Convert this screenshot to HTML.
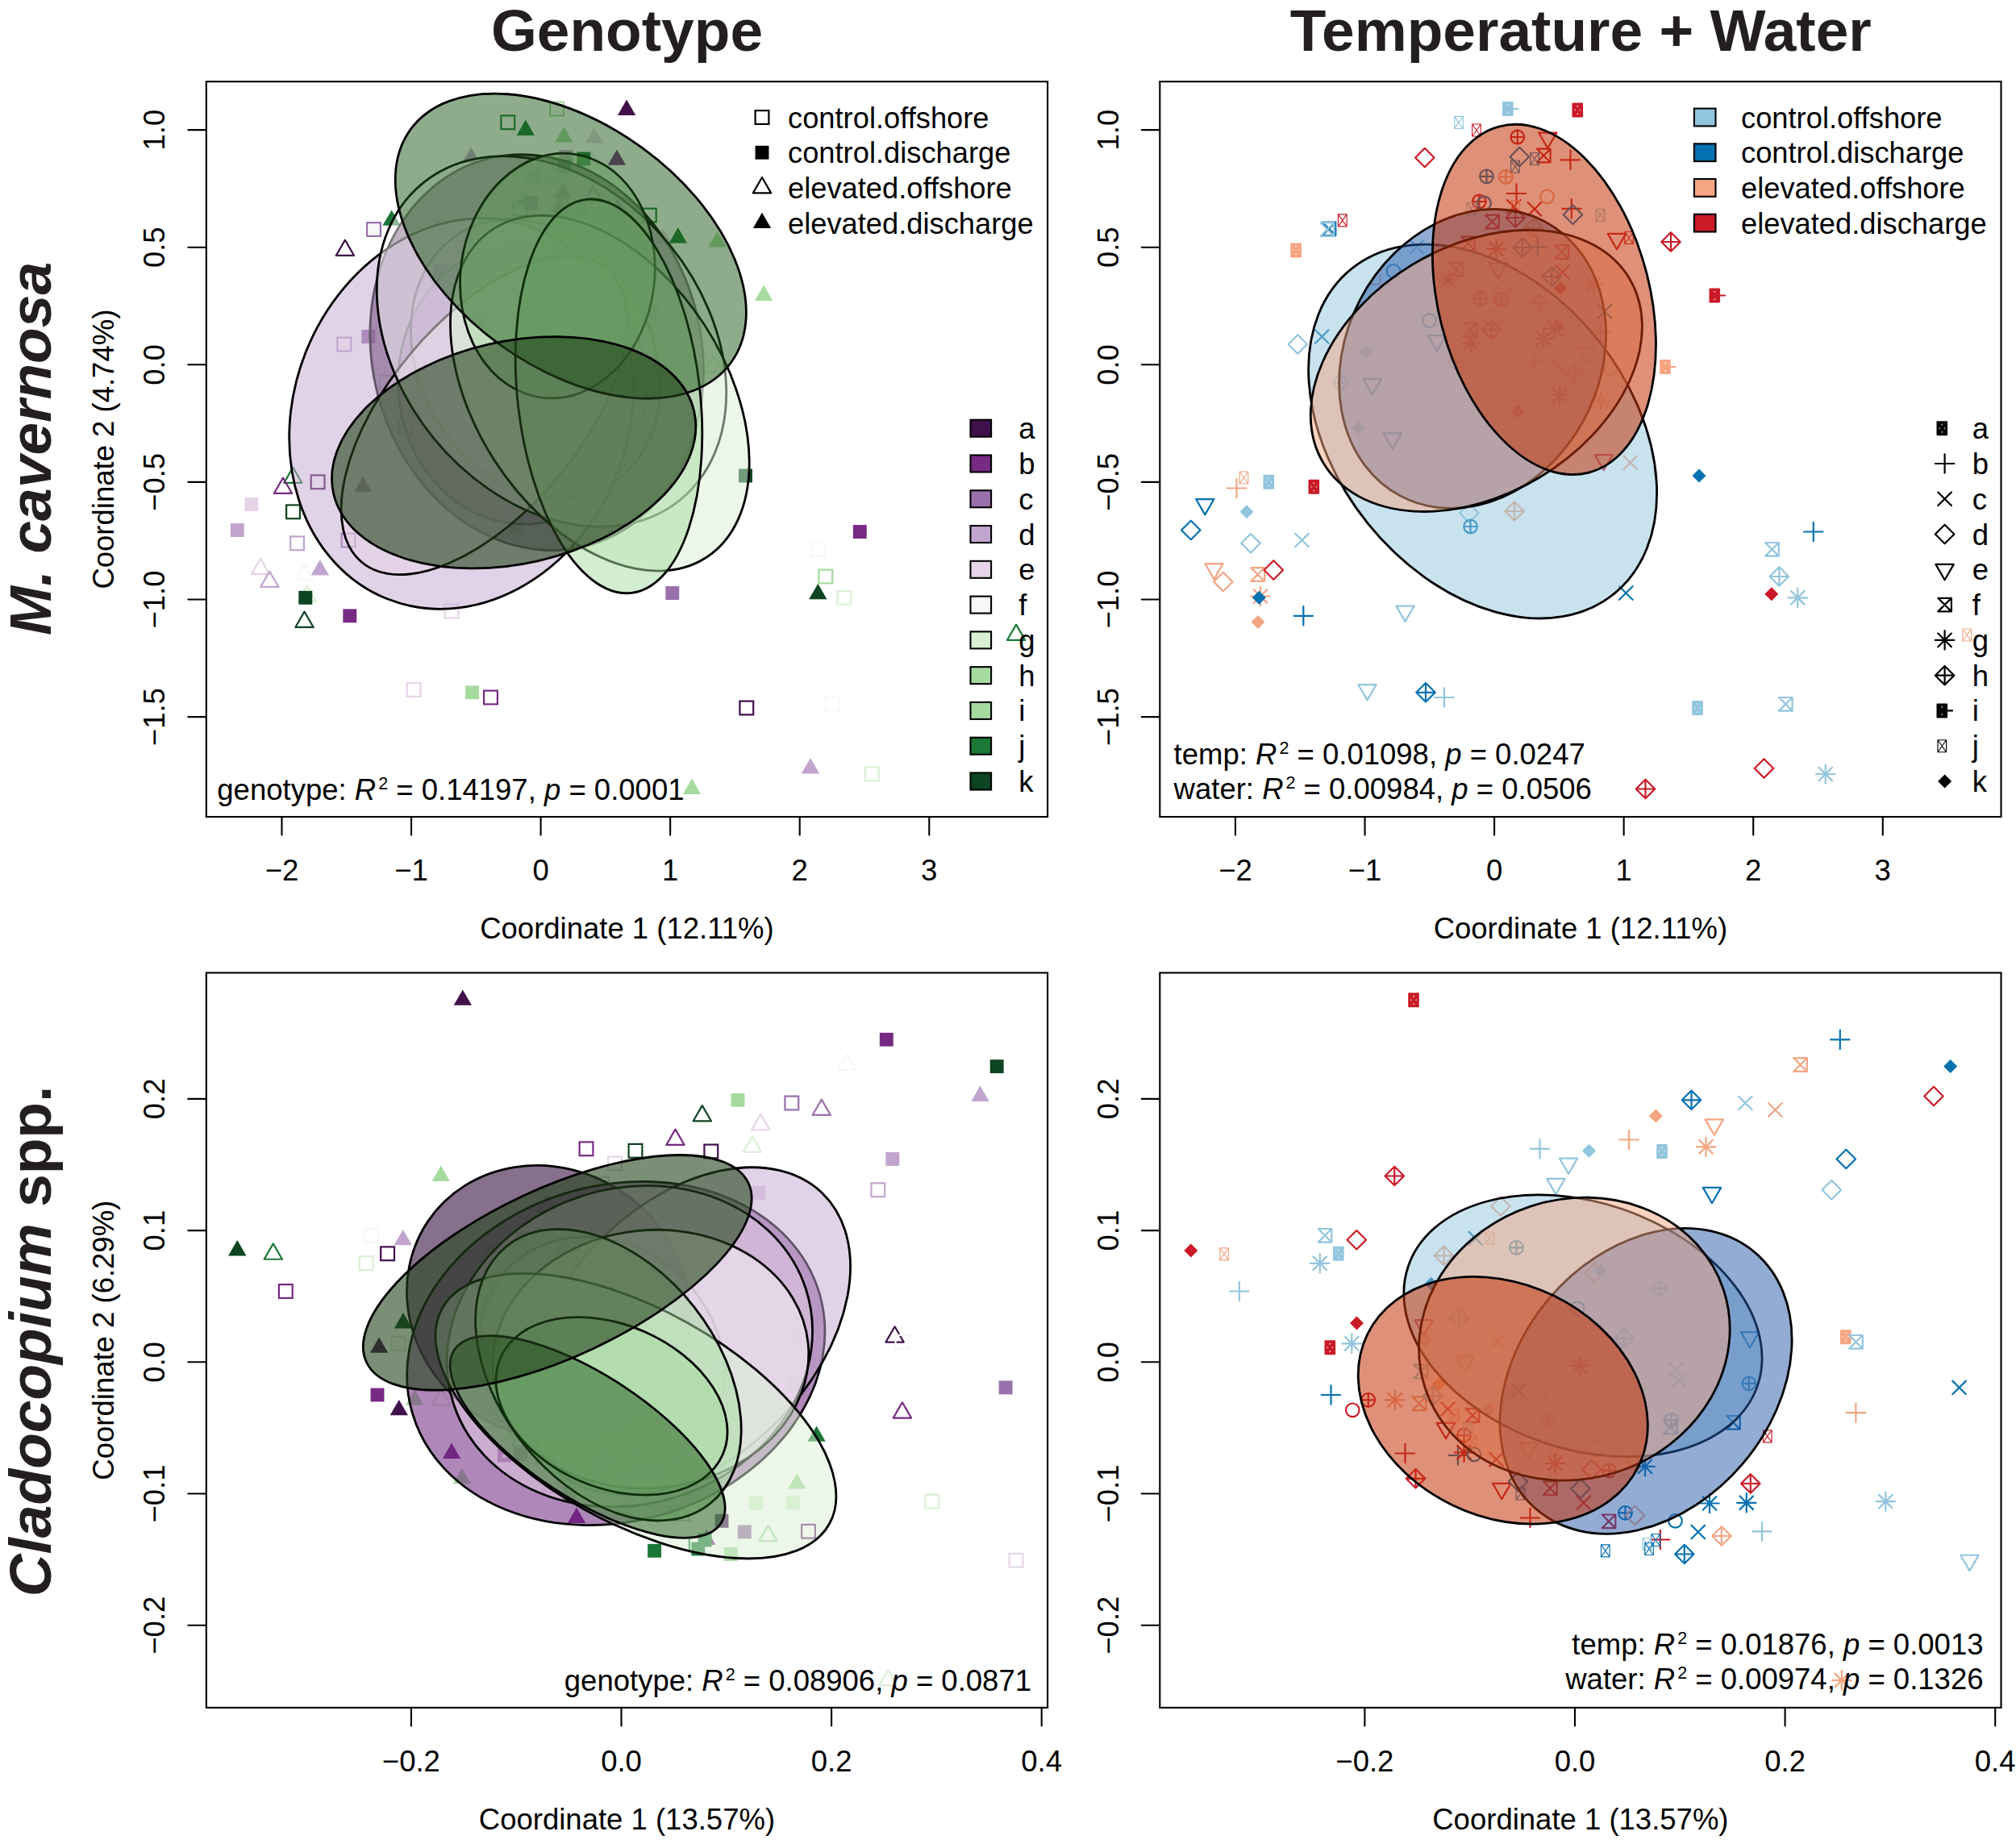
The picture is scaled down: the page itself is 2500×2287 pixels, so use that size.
<!DOCTYPE html>
<html lang="en"><head><meta charset="utf-8"><title>Ordination of M. cavernosa and Cladocopium spp. by genotype and treatment</title>
<style>html,body{margin:0;padding:0;background:#fff}svg{display:block}text{font-family:"Liberation Sans", sans-serif}</style></head>
<body>
<svg width="2500" height="2287" viewBox="0 0 2500 2287">
<rect width="2500" height="2287" fill="#fff"/>
<defs>
<clipPath id="cp00"><rect x="255.8" y="101.2" width="1043.3" height="911.9"/></clipPath>
<clipPath id="cp01"><rect x="1438.3" y="101.2" width="1043.2" height="911.9"/></clipPath>
<clipPath id="cp10"><rect x="255.8" y="1206.5" width="1043.3" height="911.4"/></clipPath>
<clipPath id="cp11"><rect x="1438.3" y="1206.5" width="1043.2" height="911.4"/></clipPath>
</defs>
<text x="777.5" y="63.2" font-size="73.1" text-anchor="middle" font-weight="bold" fill="#231f20" >Genotype</text>
<text x="1960.3" y="63.2" font-size="73.1" text-anchor="middle" font-weight="bold" fill="#231f20" >Temperature + Water</text>
<text font-size="73.1" text-anchor="middle" font-weight="bold" fill="#231f20" transform="translate(63.4 556.5) rotate(-90)" ><tspan font-style="italic">M. cavernosa</tspan></text>
<text font-size="73.1" text-anchor="middle" font-weight="bold" fill="#231f20" transform="translate(63.4 1663.5) rotate(-90)" ><tspan font-style="italic">Cladocopium</tspan> spp.</text>
<g clip-path="url(#cp00)">
<rect x="682.2" y="126.6" width="16.8" height="16.8" fill="none" stroke="#a6dba0" stroke-width="2.2"/>
<rect x="621.4" y="143.4" width="16.8" height="16.8" fill="none" stroke="#1b7837" stroke-width="2.2"/>
<path d="M651.8 148.59L662.98 167.95L640.62 167.95Z" fill="#1b7837"/>
<path d="M699.3 157.09L710.48 176.45L688.12 176.45Z" fill="#a6dba0"/>
<path d="M736.8 158.09L747.98 177.45L725.62 177.45Z" fill="#e7d4e8"/>
<path d="M584.3 182.59L595.48 201.95L573.12 201.95Z" fill="#c2a5cf"/>
<rect x="693.35" y="186.05" width="16.9" height="16.9" fill="#c2a5cf"/>
<path d="M731.8 180.09L742.98 199.45L720.62 199.45Z" fill="#f7f7f7"/>
<rect x="715.35" y="188.55" width="16.9" height="16.9" fill="#1b7837"/>
<rect x="691.35" y="198.05" width="16.9" height="16.9" fill="#1b7837"/>
<rect x="652.55" y="210.35" width="16.9" height="16.9" fill="#a6dba0"/>
<path d="M685 206.59L696.18 225.95L673.82 225.95Z" fill="none" stroke="#a6dba0" stroke-width="2.2" stroke-linecap="round" stroke-linejoin="round"/>
<path d="M698 227.09L709.18 246.45L686.82 246.45Z" fill="#762a83"/>
<path d="M736 230.89L747.18 250.25L724.82 250.25Z" fill="none" stroke="#40104c" stroke-width="2.2" stroke-linecap="round" stroke-linejoin="round"/>
<path d="M651.8 237.09L662.98 256.45L640.62 256.45Z" fill="#a6dba0"/>
<rect x="649.55" y="243.55" width="16.9" height="16.9" fill="#40104c"/>
<rect x="636.7" y="250.4" width="16.8" height="16.8" fill="none" stroke="#1b7837" stroke-width="2.2"/>
<path d="M694.8 243.39L705.98 262.75L683.62 262.75Z" fill="#9970ab"/>
<path d="M700.1 243.39L711.28 262.75L688.92 262.75Z" fill="none" stroke="#1b7837" stroke-width="2.2" stroke-linecap="round" stroke-linejoin="round"/>
<path d="M720.5 246.39L731.68 265.75L709.32 265.75Z" fill="#9970ab"/>
<path d="M668 262.09L679.18 281.45L656.82 281.45Z" fill="#f7f7f7"/>
<path d="M696.8 257.09L707.98 276.45L685.62 276.45Z" fill="#a6dba0"/>
<path d="M719.3 269.59L730.48 288.95L708.12 288.95Z" fill="none" stroke="#a6dba0" stroke-width="2.2" stroke-linecap="round" stroke-linejoin="round"/>
<path d="M485.6 260.39L496.78 279.75L474.42 279.75Z" fill="#1b7837"/>
<rect x="457.05" y="275.35" width="16.9" height="16.9" fill="#f7f7f7"/>
<rect x="455.1" y="276.1" width="16.8" height="16.8" fill="none" stroke="#9970ab" stroke-width="2.2"/>
<path d="M427.9 297.59L439.08 316.95L416.72 316.95Z" fill="none" stroke="#40104c" stroke-width="2.2" stroke-linecap="round" stroke-linejoin="round"/>
<rect x="565.9" y="297.9" width="16.8" height="16.8" fill="none" stroke="#9970ab" stroke-width="2.2"/>
<path d="M638 289.09L649.18 308.45L626.82 308.45Z" fill="#f7f7f7"/>
<path d="M673 295.89L684.18 315.25L661.82 315.25Z" fill="#d9f0d3"/>
<rect x="697.05" y="298.55" width="16.9" height="16.9" fill="#a6dba0"/>
<rect x="715.85" y="297.85" width="16.9" height="16.9" fill="#762a83"/>
<path d="M754.3 299.59L765.48 318.95L743.12 318.95Z" fill="#f7f7f7"/>
<rect x="537.05" y="327.85" width="16.9" height="16.9" fill="#40104c"/>
<path d="M623 320.89L634.18 340.25L611.82 340.25Z" fill="#f7f7f7"/>
<path d="M529.3 339.59L540.48 358.95L518.12 358.95Z" fill="none" stroke="#762a83" stroke-width="2.2" stroke-linecap="round" stroke-linejoin="round"/>
<path d="M613 334.59L624.18 353.95L601.82 353.95Z" fill="#d9f0d3"/>
<path d="M675.5 319.59L686.68 338.95L664.32 338.95Z" fill="#e7d4e8"/>
<rect x="733.35" y="334.55" width="16.9" height="16.9" fill="#a6dba0"/>
<path d="M653 357.09L664.18 376.45L641.82 376.45Z" fill="#a6dba0"/>
<path d="M679.3 358.39L690.48 377.75L668.12 377.75Z" fill="#a6dba0"/>
<path d="M680.5 347.09L691.68 366.45L669.32 366.45Z" fill="none" stroke="#c2a5cf" stroke-width="2.2" stroke-linecap="round" stroke-linejoin="round"/>
<path d="M726.8 363.39L737.98 382.75L715.62 382.75Z" fill="none" stroke="#a6dba0" stroke-width="2.2" stroke-linecap="round" stroke-linejoin="round"/>
<rect x="581.55" y="389.05" width="16.9" height="16.9" fill="#40104c"/>
<path d="M668 382.09L679.18 401.45L656.82 401.45Z" fill="none" stroke="#c2a5cf" stroke-width="2.2" stroke-linecap="round" stroke-linejoin="round"/>
<path d="M640.5 395.89L651.68 415.25L629.32 415.25Z" fill="#f7f7f7"/>
<path d="M666.8 395.89L677.98 415.25L655.62 415.25Z" fill="#a6dba0"/>
<rect x="590.85" y="414.05" width="16.9" height="16.9" fill="#e7d4e8"/>
<path d="M641.8 412.09L652.98 431.45L630.62 431.45Z" fill="#d9f0d3"/>
<path d="M731.8 407.09L742.98 426.45L720.62 426.45Z" fill="#d9f0d3"/>
<path d="M745.5 394.59L756.68 413.95L734.32 413.95Z" fill="#d9f0d3"/>
<path d="M748.8 392.09L759.98 411.45L737.62 411.45Z" fill="#0d4421"/>
<rect x="448.35" y="409.05" width="16.9" height="16.9" fill="#9970ab"/>
<rect x="418.4" y="418.6" width="16.8" height="16.8" fill="none" stroke="#c2a5cf" stroke-width="2.2"/>
<rect x="503.4" y="427.6" width="16.8" height="16.8" fill="none" stroke="#e7d4e8" stroke-width="2.2"/>
<path d="M623 435.89L634.18 455.25L611.82 455.25Z" fill="none" stroke="#a6dba0" stroke-width="2.2" stroke-linecap="round" stroke-linejoin="round"/>
<path d="M720.5 435.89L731.68 455.25L709.32 455.25Z" fill="none" stroke="#762a83" stroke-width="2.2" stroke-linecap="round" stroke-linejoin="round"/>
<rect x="471.4" y="466.1" width="16.8" height="16.8" fill="none" stroke="#a6dba0" stroke-width="2.2"/>
<rect x="510.85" y="467.85" width="16.9" height="16.9" fill="#e7d4e8"/>
<path d="M751.8 477.09L762.98 496.45L740.62 496.45Z" fill="#d9f0d3"/>
<path d="M699.3 497.09L710.48 516.45L688.12 516.45Z" fill="#0d4421"/>
<rect x="494.1" y="521.6" width="16.8" height="16.8" fill="none" stroke="#0d4421" stroke-width="2.2"/>
<rect x="535.85" y="535.35" width="16.9" height="16.9" fill="#e7d4e8"/>
<path d="M777.1 123.59L788.28 142.95L765.92 142.95Z" fill="#40104c"/>
<path d="M765 185.39L776.18 204.75L753.82 204.75Z" fill="#762a83"/>
<path d="M766.3 245.89L777.48 265.25L755.12 265.25Z" fill="#762a83"/>
<rect x="759.55" y="257.85" width="16.9" height="16.9" fill="#c2a5cf"/>
<rect x="796.9" y="258.6" width="16.8" height="16.8" fill="none" stroke="#1b7837" stroke-width="2.2"/>
<path d="M822.5 283.39L833.68 302.75L811.32 302.75Z" fill="#e7d4e8"/>
<path d="M840.8 282.09L851.98 301.45L829.62 301.45Z" fill="#1b7837"/>
<path d="M889.5 287.09L900.68 306.45L878.32 306.45Z" fill="#a6dba0"/>
<path d="M755 324.59L766.18 343.95L743.82 343.95Z" fill="#9970ab"/>
<path d="M793.8 339.59L804.98 358.95L782.62 358.95Z" fill="none" stroke="#d9f0d3" stroke-width="2.2" stroke-linecap="round" stroke-linejoin="round"/>
<path d="M752.5 344.59L763.68 363.95L741.32 363.95Z" fill="#0d4421"/>
<rect x="799.05" y="377.85" width="16.9" height="16.9" fill="#9970ab"/>
<path d="M947.1 353.59L958.28 372.95L935.92 372.95Z" fill="#a6dba0"/>
<path d="M802.5 398.39L813.68 417.75L791.32 417.75Z" fill="none" stroke="#762a83" stroke-width="2.2" stroke-linecap="round" stroke-linejoin="round"/>
<path d="M785 424.59L796.18 443.95L773.82 443.95Z" fill="none" stroke="#e7d4e8" stroke-width="2.2" stroke-linecap="round" stroke-linejoin="round"/>
<path d="M750 442.09L761.18 461.45L738.82 461.45Z" fill="none" stroke="#9970ab" stroke-width="2.2" stroke-linecap="round" stroke-linejoin="round"/>
<path d="M771.3 449.59L782.48 468.95L760.12 468.95Z" fill="none" stroke="#a6dba0" stroke-width="2.2" stroke-linecap="round" stroke-linejoin="round"/>
<path d="M815 443.39L826.18 462.75L803.82 462.75Z" fill="none" stroke="#40104c" stroke-width="2.2" stroke-linecap="round" stroke-linejoin="round"/>
<path d="M885.8 442.09L896.98 461.45L874.62 461.45Z" fill="none" stroke="#a6dba0" stroke-width="2.2" stroke-linecap="round" stroke-linejoin="round"/>
<path d="M802.5 483.39L813.68 502.75L791.32 502.75Z" fill="none" stroke="#d9f0d3" stroke-width="2.2" stroke-linecap="round" stroke-linejoin="round"/>
<path d="M363.3 579.59L374.48 598.95L352.12 598.95Z" fill="none" stroke="#1b7837" stroke-width="2.2" stroke-linecap="round" stroke-linejoin="round"/>
<path d="M351 592.59L362.18 611.95L339.82 611.95Z" fill="none" stroke="#762a83" stroke-width="2.2" stroke-linecap="round" stroke-linejoin="round"/>
<rect x="385.7" y="589.4" width="16.8" height="16.8" fill="none" stroke="#40104c" stroke-width="2.2"/>
<path d="M450.1 590.89L461.28 610.25L438.92 610.25Z" fill="#40104c"/>
<rect x="303.35" y="617.05" width="16.9" height="16.9" fill="#e7d4e8"/>
<rect x="355.1" y="626.4" width="16.8" height="16.8" fill="none" stroke="#0d4421" stroke-width="2.2"/>
<rect x="285.85" y="649.05" width="16.9" height="16.9" fill="#c2a5cf"/>
<rect x="360.1" y="665.4" width="16.8" height="16.8" fill="none" stroke="#c2a5cf" stroke-width="2.2"/>
<rect x="423.6" y="661.6" width="16.8" height="16.8" fill="none" stroke="#9970ab" stroke-width="2.2"/>
<path d="M323 692.59L334.18 711.95L311.82 711.95Z" fill="none" stroke="#e7d4e8" stroke-width="2.2" stroke-linecap="round" stroke-linejoin="round"/>
<path d="M334.3 708.59L345.48 727.95L323.12 727.95Z" fill="none" stroke="#c2a5cf" stroke-width="2.2" stroke-linecap="round" stroke-linejoin="round"/>
<path d="M377.3 699.59L388.48 718.95L366.12 718.95Z" fill="none" stroke="#f7f7f7" stroke-width="2.2" stroke-linecap="round" stroke-linejoin="round"/>
<path d="M396.8 694.09L407.98 713.45L385.62 713.45Z" fill="#c2a5cf"/>
<path d="M380.5 726.59L391.68 745.95L369.32 745.95Z" fill="none" stroke="#d9f0d3" stroke-width="2.2" stroke-linecap="round" stroke-linejoin="round"/>
<rect x="370.35" y="732.85" width="16.9" height="16.9" fill="#0d4421"/>
<path d="M377.5 758.59L388.68 777.95L366.32 777.95Z" fill="none" stroke="#0d4421" stroke-width="2.2" stroke-linecap="round" stroke-linejoin="round"/>
<rect x="425.35" y="755.35" width="16.9" height="16.9" fill="#762a83"/>
<rect x="551.6" y="749.6" width="16.8" height="16.8" fill="none" stroke="#e7d4e8" stroke-width="2.2"/>
<rect x="504.6" y="847.1" width="16.8" height="16.8" fill="none" stroke="#e7d4e8" stroke-width="2.2"/>
<rect x="577.05" y="850.35" width="16.9" height="16.9" fill="#a6dba0"/>
<rect x="600.1" y="856.6" width="16.8" height="16.8" fill="none" stroke="#762a83" stroke-width="2.2"/>
<rect x="630.9" y="627.9" width="16.8" height="16.8" fill="none" stroke="#c2a5cf" stroke-width="2.2"/>
<rect x="632.55" y="644.55" width="16.9" height="16.9" fill="#a6dba0"/>
<path d="M695.5 621.09L706.68 640.45L684.32 640.45Z" fill="none" stroke="#a6dba0" stroke-width="2.2" stroke-linecap="round" stroke-linejoin="round"/>
<path d="M806.3 557.59L817.48 576.95L795.12 576.95Z" fill="#e7d4e8"/>
<path d="M839.3 560.89L850.48 580.25L828.12 580.25Z" fill="none" stroke="#9970ab" stroke-width="2.2" stroke-linecap="round" stroke-linejoin="round"/>
<rect x="916.05" y="581.55" width="16.9" height="16.9" fill="#0d4421"/>
<rect x="1057.85" y="651.05" width="16.9" height="16.9" fill="#762a83"/>
<rect x="1006.6" y="672.9" width="16.8" height="16.8" fill="none" stroke="#f7f7f7" stroke-width="2.2"/>
<rect x="1015.4" y="706.6" width="16.8" height="16.8" fill="none" stroke="#a6dba0" stroke-width="2.2"/>
<path d="M1014.3 723.89L1025.48 743.25L1003.12 743.25Z" fill="#0d4421"/>
<rect x="1038.4" y="732.9" width="16.8" height="16.8" fill="none" stroke="#d9f0d3" stroke-width="2.2"/>
<rect x="825.35" y="727.05" width="16.9" height="16.9" fill="#9970ab"/>
<rect x="917.4" y="869.6" width="16.8" height="16.8" fill="none" stroke="#40104c" stroke-width="2.2"/>
<rect x="1023.4" y="864.9" width="16.8" height="16.8" fill="none" stroke="#f7f7f7" stroke-width="2.2"/>
<path d="M1005 940.09L1016.18 959.45L993.82 959.45Z" fill="#c2a5cf"/>
<rect x="1072.9" y="951.6" width="16.8" height="16.8" fill="none" stroke="#d9f0d3" stroke-width="2.2"/>
<path d="M858 965.59L869.18 984.95L846.82 984.95Z" fill="#a6dba0"/>
<path d="M1260.1 774.59L1271.28 793.95L1248.92 793.95Z" fill="none" stroke="#1b7837" stroke-width="2.2" stroke-linecap="round" stroke-linejoin="round"/>
<ellipse cx="665.67" cy="437.08" rx="247.76" ry="204.04" transform="rotate(-103.82 665.67 437.08)" fill="#371140" fill-opacity="0.6" stroke="#000" stroke-opacity="1.0" stroke-width="2.8"/>
<ellipse cx="647.73" cy="476.7" rx="173.59" ry="153.99" transform="rotate(-93.95 647.73 476.7)" fill="#6e2580" fill-opacity="0.55" stroke="#000" stroke-opacity="1.0" stroke-width="2.8"/>
<ellipse cx="664.04" cy="444.75" rx="181.8" ry="144.16" transform="rotate(-120.34 664.04 444.75)" fill="#9970ab" fill-opacity="0.5" stroke="#000" stroke-opacity="1.0" stroke-width="2.8"/>
<ellipse cx="571.93" cy="513" rx="247.4" ry="207.29" transform="rotate(-68.27 571.93 513)" fill="#c2a5cf" fill-opacity="0.5" stroke="#000" stroke-opacity="1.0" stroke-width="2.8"/>
<ellipse cx="600.51" cy="515.24" rx="237.06" ry="119.31" transform="rotate(-50.15 600.51 515.24)" fill="#e7d4e8" fill-opacity="0.5" stroke="#000" stroke-opacity="1.0" stroke-width="2.8"/>
<ellipse cx="683.97" cy="423.46" rx="253.03" ry="189.13" transform="rotate(-129.02 683.97 423.46)" fill="#f7f7f7" fill-opacity="0.5" stroke="#000" stroke-opacity="1.0" stroke-width="2.8"/>
<ellipse cx="743.84" cy="487.73" rx="242.72" ry="154.95" transform="rotate(-123 743.84 487.73)" fill="#d9f0d3" fill-opacity="0.5" stroke="#000" stroke-opacity="1.0" stroke-width="2.8"/>
<ellipse cx="691.4" cy="342.08" rx="152.35" ry="120.28" transform="rotate(-82.46 691.4 342.08)" fill="#a6dba0" fill-opacity="0.5" stroke="#000" stroke-opacity="1.0" stroke-width="2.8"/>
<ellipse cx="754.99" cy="491.38" rx="245.61" ry="113.11" transform="rotate(-96.54 754.99 491.38)" fill="#a6dba0" fill-opacity="0.5" stroke="#000" stroke-opacity="1.0" stroke-width="2.8"/>
<ellipse cx="707.79" cy="305.14" rx="245.74" ry="150.67" transform="rotate(-143.95 707.79 305.14)" fill="#1d5917" fill-opacity="0.5" stroke="#000" stroke-opacity="1.0" stroke-width="2.8"/>
<ellipse cx="637.2" cy="561.22" rx="229.33" ry="137.74" transform="rotate(167.15 637.2 561.22)" fill="#23441a" fill-opacity="0.6" stroke="#000" stroke-opacity="1.0" stroke-width="2.8"/>
</g>
<rect x="255.8" y="101.2" width="1043.3" height="911.9" fill="none" stroke="#000" stroke-width="2.1"/>
<text x="349.48" y="1091.9" font-size="36.5" text-anchor="middle" >−2</text>
<text x="510.04" y="1091.9" font-size="36.5" text-anchor="middle" >−1</text>
<text x="670.6" y="1091.9" font-size="36.5" text-anchor="middle" >0</text>
<text x="831.16" y="1091.9" font-size="36.5" text-anchor="middle" >1</text>
<text x="991.72" y="1091.9" font-size="36.5" text-anchor="middle" >2</text>
<text x="1152.28" y="1091.9" font-size="36.5" text-anchor="middle" >3</text>
<text font-size="36.5" text-anchor="middle" transform="translate(204.2 161.1) rotate(-90)" >1.0</text>
<text font-size="36.5" text-anchor="middle" transform="translate(204.2 306.7) rotate(-90)" >0.5</text>
<text font-size="36.5" text-anchor="middle" transform="translate(204.2 452.3) rotate(-90)" >0.0</text>
<text font-size="36.5" text-anchor="middle" transform="translate(204.2 597.9) rotate(-90)" >−0.5</text>
<text font-size="36.5" text-anchor="middle" transform="translate(204.2 743.5) rotate(-90)" >−1.0</text>
<text font-size="36.5" text-anchor="middle" transform="translate(204.2 889.1) rotate(-90)" >−1.5</text>
<path d="M349.48 1013.1v22.5M510.04 1013.1v22.5M670.6 1013.1v22.5M831.16 1013.1v22.5M991.72 1013.1v22.5M1152.28 1013.1v22.5M255.8 161.1h-22.5M255.8 306.7h-22.5M255.8 452.3h-22.5M255.8 597.9h-22.5M255.8 743.5h-22.5M255.8 889.1h-22.5" fill="none" stroke="#000" stroke-width="2.1" stroke-linecap="round"/>
<text x="777.45" y="1164" font-size="36.5" text-anchor="middle" >Coordinate 1 (12.11%)</text>
<text font-size="36.5" text-anchor="middle" transform="translate(140.8 557.15) rotate(-90)" >Coordinate 2 (4.74%)</text>
<g clip-path="url(#cp01)">
<rect x="1863" y="126" width="13.6" height="18" rx="1" fill="#92c5de"/><path d="M1876.6 135h6" stroke="#92c5de" stroke-width="2.2" stroke-linecap="round" fill="none"/><path d="M1868.6 129.6l2.4 0l-1.2 2zM1868.6 140.4l2.4 0l-1.2 -2z" fill="#fff" fill-opacity="0.85"/>
<path d="M1803.7 144.3h10.6v15h-10.6zl10.6 15M1814.3 144.3l-10.6 15" fill="none" stroke="#92c5de" stroke-width="1.15" stroke-linecap="round" stroke-linejoin="round"/>
<path d="M1825.7 154h10.6v15h-10.6zl10.6 15M1836.3 154l-10.6 15" fill="none" stroke="#ca1a27" stroke-width="1.15" stroke-linecap="round" stroke-linejoin="round"/>
<circle cx="1881.8" cy="170" r="8.3" fill="none" stroke="#ca1a27" stroke-width="2.2"/><path d="M1873.5 170h16.6M1881.8 161.7v16.6" fill="none" stroke="#ca1a27" stroke-width="2.2" stroke-linecap="round" stroke-linejoin="round"/>
<path d="M1919.3 183.91L1930.48 164.55L1908.12 164.55Z" fill="none" stroke="#ca1a27" stroke-width="2.2" stroke-linecap="round" stroke-linejoin="round"/>
<path d="M1755.06 195.5L1766.8 183.76L1778.54 195.5L1766.8 207.24Z" fill="none" stroke="#ca1a27" stroke-width="2.2" stroke-linecap="round" stroke-linejoin="round"/>
<path d="M1872.56 194.5L1884.3 182.76L1896.04 194.5L1884.3 206.24Z" fill="none" stroke="#0571b0" stroke-width="2.2" stroke-linecap="round" stroke-linejoin="round"/>
<path d="M1906 184.7h16.6v16.6h-16.6M1906 184.7l16.6 16.6M1906 201.3l16.6 -16.6" fill="none" stroke="#ca1a27" stroke-width="2.2" stroke-linecap="round" stroke-linejoin="round"/>
<path d="M1897.7 189.5h10.6v15h-10.6zl10.6 15M1908.3 189.5l-10.6 15" fill="none" stroke="#0571b0" stroke-width="1.15" stroke-linecap="round" stroke-linejoin="round"/>
<path d="M1873.7 199h10.6v15h-10.6zl10.6 15M1884.3 199l-10.6 15" fill="none" stroke="#0571b0" stroke-width="1.15" stroke-linecap="round" stroke-linejoin="round"/>
<circle cx="1843.5" cy="218.8" r="8.3" fill="none" stroke="#0571b0" stroke-width="2.2"/><path d="M1835.2 218.8h16.6M1843.5 210.5v16.6" fill="none" stroke="#0571b0" stroke-width="2.2" stroke-linecap="round" stroke-linejoin="round"/>
<circle cx="1867.5" cy="219.5" r="8.3" fill="none" stroke="#f4a582" stroke-width="2.2"/><path d="M1859.2 219.5h16.6M1867.5 211.2v16.6" fill="none" stroke="#f4a582" stroke-width="2.2" stroke-linecap="round" stroke-linejoin="round"/>
<path d="M1868.76 240h23.48M1880.5 228.26v23.48" fill="none" stroke="#ca1a27" stroke-width="2.2" stroke-linecap="round" stroke-linejoin="round"/>
<circle cx="1918.5" cy="243.8" r="8.3" fill="none" stroke="#f4a582" stroke-width="2.2"/>
<circle cx="1834.3" cy="250" r="8.3" fill="none" stroke="#ca1a27" stroke-width="2.2"/><path d="M1826 250h16.6M1834.3 241.7v16.6" fill="none" stroke="#ca1a27" stroke-width="2.2" stroke-linecap="round" stroke-linejoin="round"/>
<circle cx="1840.5" cy="252" r="8.3" fill="none" stroke="#0571b0" stroke-width="2.2"/>
<path d="M1819 251.3h10.6v15h-10.6zl10.6 15M1829.6 251.3l-10.6 15" fill="none" stroke="#92c5de" stroke-width="1.15" stroke-linecap="round" stroke-linejoin="round"/>
<path d="M1869 248l16.6 16.6M1869 264.6l16.6 -16.6" fill="none" stroke="#ca1a27" stroke-width="2.2" stroke-linecap="round" stroke-linejoin="round"/>
<path d="M1874 248.8h10.6v15h-10.6zl10.6 15M1884.6 248.8l-10.6 15" fill="none" stroke="#f4a582" stroke-width="1.15" stroke-linecap="round" stroke-linejoin="round"/>
<path d="M1894.7 251l16.6 16.6M1894.7 267.6l16.6 -16.6" fill="none" stroke="#ca1a27" stroke-width="2.2" stroke-linecap="round" stroke-linejoin="round"/>
<path d="M1842.2 266.7h16.6v16.6h-16.6M1842.2 266.7l16.6 16.6M1842.2 283.3l16.6 -16.6" fill="none" stroke="#ca1a27" stroke-width="2.2" stroke-linecap="round" stroke-linejoin="round"/>
<path d="M1867.56 270L1879.3 258.26L1891.04 270L1879.3 281.74ZM1867.56 270h23.48M1879.3 258.26v23.48" fill="none" stroke="#ca1a27" stroke-width="2.2" stroke-linecap="round" stroke-linejoin="round"/>
<path d="M1890.06 282.5L1901.8 270.76L1913.54 282.5L1901.8 294.24ZM1890.06 282.5h23.48M1901.8 270.76v23.48" fill="none" stroke="#f4a582" stroke-width="2.2" stroke-linecap="round" stroke-linejoin="round"/>
<path d="M1659.5 265.8h10.6v15h-10.6zl10.6 15M1670.1 265.8l-10.6 15" fill="none" stroke="#ca1a27" stroke-width="1.15" stroke-linecap="round" stroke-linejoin="round"/>
<path d="M1639.7 275.5h16.6v16.6h-16.6M1639.7 275.5l16.6 16.6M1639.7 292.1l16.6 -16.6" fill="none" stroke="#0571b0" stroke-width="2.2" stroke-linecap="round" stroke-linejoin="round"/>
<path d="M1637.7 276.2h16.6v16.6h-16.6M1637.7 276.2l16.6 16.6M1637.7 292.8l16.6 -16.6" fill="none" stroke="#92c5de" stroke-width="2.2" stroke-linecap="round" stroke-linejoin="round"/>
<rect x="1600.3" y="301.5" width="13.6" height="18" rx="1" fill="#f4a582"/><path d="M1605.9 305.1l2.4 0l-1.2 2zM1605.9 315.9l2.4 0l-1.2 -2zM1603.5 309.3l0 2.4l1.6 -1.2zM1610.7 309.3l0 2.4l-1.6 -1.2z" fill="#fff" fill-opacity="0.85"/>
<path d="M1748.5 298l16.6 16.6M1748.5 314.6l16.6 -16.6" fill="none" stroke="#92c5de" stroke-width="2.2" stroke-linecap="round" stroke-linejoin="round"/>
<path d="M1812.2 293.7h16.6v16.6h-16.6M1812.2 293.7l16.6 16.6M1812.2 310.3l16.6 -16.6" fill="none" stroke="#ca1a27" stroke-width="2.2" stroke-linecap="round" stroke-linejoin="round"/>
<path d="M1843.76 308.8h23.48M1855.5 297.06v23.48M1847.2 300.5l16.6 16.6M1847.2 317.1l16.6 -16.6" fill="none" stroke="#ca1a27" stroke-width="2.2" stroke-linecap="round" stroke-linejoin="round"/>
<path d="M1876.26 307L1888 295.26L1899.74 307L1888 318.74ZM1876.26 307h23.48M1888 295.26v23.48" fill="none" stroke="#0571b0" stroke-width="2.2" stroke-linecap="round" stroke-linejoin="round"/>
<path d="M1895.06 306.3h23.48M1906.8 294.56v23.48" fill="none" stroke="#0571b0" stroke-width="2.2" stroke-linecap="round" stroke-linejoin="round"/>
<path d="M1928.5 304.2h16.6v16.6h-16.6M1928.5 304.2l16.6 16.6M1928.5 320.8l16.6 -16.6" fill="none" stroke="#ca1a27" stroke-width="2.2" stroke-linecap="round" stroke-linejoin="round"/>
<circle cx="1728" cy="336.3" r="8.3" fill="none" stroke="#0571b0" stroke-width="2.2"/>
<path d="M1797.2 325.5h16.6v16.6h-16.6M1797.2 325.5l16.6 16.6M1797.2 342.1l16.6 -16.6" fill="none" stroke="#ca1a27" stroke-width="2.2" stroke-linecap="round" stroke-linejoin="round"/>
<path d="M1700.06 352.5h23.48M1711.8 340.76v23.48" fill="none" stroke="#f4a582" stroke-width="2.2" stroke-linecap="round" stroke-linejoin="round"/>
<path d="M1783.76 347.5h23.48M1795.5 335.76v23.48M1787.2 339.2l16.6 16.6M1787.2 355.8l16.6 -16.6" fill="none" stroke="#ca1a27" stroke-width="2.2" stroke-linecap="round" stroke-linejoin="round"/>
<path d="M1858 345.41L1869.18 326.05L1846.82 326.05Z" fill="none" stroke="#ca1a27" stroke-width="2.2" stroke-linecap="round" stroke-linejoin="round"/>
<path d="M1912.56 343L1924.3 331.26L1936.04 343L1924.3 354.74ZM1912.56 343h23.48M1924.3 331.26v23.48" fill="none" stroke="#0571b0" stroke-width="2.2" stroke-linecap="round" stroke-linejoin="round"/>
<circle cx="1835.5" cy="370" r="8.3" fill="none" stroke="#ca1a27" stroke-width="2.2"/><path d="M1827.2 370h16.6M1835.5 361.7v16.6" fill="none" stroke="#ca1a27" stroke-width="2.2" stroke-linecap="round" stroke-linejoin="round"/>
<circle cx="1861.8" cy="371.3" r="8.3" fill="none" stroke="#ca1a27" stroke-width="2.2"/><path d="M1853.5 371.3h16.6M1861.8 363v16.6" fill="none" stroke="#ca1a27" stroke-width="2.2" stroke-linecap="round" stroke-linejoin="round"/>
<path d="M1851.26 360L1863 348.26L1874.74 360L1863 371.74Z" fill="none" stroke="#f4a582" stroke-width="2.2" stroke-linecap="round" stroke-linejoin="round"/>
<path d="M1897.56 376.3L1909.3 364.56L1921.04 376.3L1909.3 388.04ZM1897.56 376.3h23.48M1909.3 364.56v23.48" fill="none" stroke="#f4a582" stroke-width="2.2" stroke-linecap="round" stroke-linejoin="round"/>
<circle cx="1772.5" cy="397.5" r="8.3" fill="none" stroke="#0571b0" stroke-width="2.2"/>
<path d="M1838.76 395L1850.5 383.26L1862.24 395L1850.5 406.74Z" fill="none" stroke="#f4a582" stroke-width="2.2" stroke-linecap="round" stroke-linejoin="round"/>
<path d="M1814.7 400.5h16.6v16.6h-16.6M1814.7 400.5l16.6 16.6M1814.7 417.1l16.6 -16.6" fill="none" stroke="#ca1a27" stroke-width="2.2" stroke-linecap="round" stroke-linejoin="round"/>
<path d="M1837.56 408.8L1849.3 397.06L1861.04 408.8L1849.3 420.54ZM1837.56 408.8h23.48M1849.3 397.06v23.48" fill="none" stroke="#ca1a27" stroke-width="2.2" stroke-linecap="round" stroke-linejoin="round"/>
<path d="M1781.8 435.41L1792.98 416.05L1770.62 416.05Z" fill="none" stroke="#0571b0" stroke-width="2.2" stroke-linecap="round" stroke-linejoin="round"/>
<path d="M1812.56 425h23.48M1824.3 413.26v23.48M1816 416.7l16.6 16.6M1816 433.3l16.6 -16.6" fill="none" stroke="#ca1a27" stroke-width="2.2" stroke-linecap="round" stroke-linejoin="round"/>
<path d="M1902.56 420h23.48M1914.3 408.26v23.48M1906 411.7l16.6 16.6M1906 428.3l16.6 -16.6" fill="none" stroke="#ca1a27" stroke-width="2.2" stroke-linecap="round" stroke-linejoin="round"/>
<path d="M1916.26 407.5h23.48M1928 395.76v23.48M1919.7 399.2l16.6 16.6M1919.7 415.8l16.6 -16.6" fill="none" stroke="#ca1a27" stroke-width="2.2" stroke-linecap="round" stroke-linejoin="round"/>
<path d="M1922.8 405L1931.3 396.5L1939.8 405L1931.3 413.5Z" fill="#ca1a27"/>
<path d="M1631 409.2l16.6 16.6M1631 425.8l16.6 -16.6" fill="none" stroke="#0571b0" stroke-width="2.2" stroke-linecap="round" stroke-linejoin="round"/>
<path d="M1597.56 427L1609.3 415.26L1621.04 427L1609.3 438.74Z" fill="none" stroke="#92c5de" stroke-width="2.2" stroke-linecap="round" stroke-linejoin="round"/>
<path d="M1685.8 436L1694.3 427.5L1702.8 436L1694.3 444.5Z" fill="#92c5de"/>
<circle cx="1805.5" cy="448.8" r="8.3" fill="none" stroke="#f4a582" stroke-width="2.2"/><path d="M1797.2 448.8h16.6M1805.5 440.5v16.6" fill="none" stroke="#f4a582" stroke-width="2.2" stroke-linecap="round" stroke-linejoin="round"/>
<path d="M1891.26 448.8h23.48M1903 437.06v23.48" fill="none" stroke="#f4a582" stroke-width="2.2" stroke-linecap="round" stroke-linejoin="round"/>
<circle cx="1662.3" cy="474.5" r="8.3" fill="none" stroke="#92c5de" stroke-width="2.2"/><path d="M1654 474.5h16.6M1662.3 466.2v16.6" fill="none" stroke="#92c5de" stroke-width="2.2" stroke-linecap="round" stroke-linejoin="round"/>
<path d="M1701.8 489.21L1712.98 469.85L1690.62 469.85Z" fill="none" stroke="#0571b0" stroke-width="2.2" stroke-linecap="round" stroke-linejoin="round"/>
<path d="M1922.56 490h23.48M1934.3 478.26v23.48M1926 481.7l16.6 16.6M1926 498.3l16.6 -16.6" fill="none" stroke="#ca1a27" stroke-width="2.2" stroke-linecap="round" stroke-linejoin="round"/>
<path d="M1873.3 510L1881.8 501.5L1890.3 510L1881.8 518.5Z" fill="#ca1a27"/>
<path d="M1676.5 530L1685 521.5L1693.5 530L1685 538.5Z" fill="#92c5de"/>
<path d="M1726.8 556.71L1737.98 537.35L1715.62 537.35Z" fill="none" stroke="#0571b0" stroke-width="2.2" stroke-linecap="round" stroke-linejoin="round"/>
<rect x="1949.5" y="127.5" width="13.6" height="18" rx="1" fill="#ca1a27"/><path d="M1955.1 131.1l2.4 0l-1.2 2zM1955.1 141.9l2.4 0l-1.2 -2zM1952.7 135.3l0 2.4l1.6 -1.2zM1959.9 135.3l0 2.4l-1.6 -1.2z" fill="#fff" fill-opacity="0.85"/>
<path d="M1935.76 198.3h23.48M1947.5 186.56v23.48" fill="none" stroke="#ca1a27" stroke-width="2.2" stroke-linecap="round" stroke-linejoin="round"/>
<path d="M1937.06 258.8h23.48M1948.8 247.06v23.48" fill="none" stroke="#ca1a27" stroke-width="2.2" stroke-linecap="round" stroke-linejoin="round"/>
<path d="M1938.76 266.3L1950.5 254.56L1962.24 266.3L1950.5 278.04Z" fill="none" stroke="#0571b0" stroke-width="2.2" stroke-linecap="round" stroke-linejoin="round"/>
<path d="M1979.2 259.5h10.6v15h-10.6zl10.6 15M1989.8 259.5l-10.6 15" fill="none" stroke="#92c5de" stroke-width="1.15" stroke-linecap="round" stroke-linejoin="round"/>
<path d="M2005 309.21L2016.18 289.85L1993.82 289.85Z" fill="none" stroke="#ca1a27" stroke-width="2.2" stroke-linecap="round" stroke-linejoin="round"/>
<path d="M2014.7 287.5h10.6v15h-10.6zl10.6 15M2025.3 287.5l-10.6 15" fill="none" stroke="#ca1a27" stroke-width="1.15" stroke-linecap="round" stroke-linejoin="round"/>
<path d="M2060.26 300L2072 288.26L2083.74 300L2072 311.74ZM2060.26 300h23.48M2072 288.26v23.48" fill="none" stroke="#ca1a27" stroke-width="2.2" stroke-linecap="round" stroke-linejoin="round"/>
<path d="M1929.2 329.2l16.6 16.6M1929.2 345.8l16.6 -16.6" fill="none" stroke="#ca1a27" stroke-width="2.2" stroke-linecap="round" stroke-linejoin="round"/>
<path d="M1964.56 352.5h23.48M1976.3 340.76v23.48M1968 344.2l16.6 16.6M1968 360.8l16.6 -16.6" fill="none" stroke="#f4a582" stroke-width="2.2" stroke-linecap="round" stroke-linejoin="round"/>
<path d="M1926.5 357.5L1935 349L1943.5 357.5L1935 366Z" fill="#ca1a27"/>
<path d="M1981.7 378l16.6 16.6M1981.7 394.6l16.6 -16.6" fill="none" stroke="#0571b0" stroke-width="2.2" stroke-linecap="round" stroke-linejoin="round"/>
<rect x="2119.5" y="357.5" width="13.6" height="18" rx="1" fill="#ca1a27"/><path d="M2133.1 366.5h6" stroke="#ca1a27" stroke-width="2.2" stroke-linecap="round" fill="none"/><path d="M2125.1 361.1l2.4 0l-1.2 2zM2125.1 371.9l2.4 0l-1.2 -2z" fill="#fff" fill-opacity="0.85"/>
<path d="M1973.26 411.3h23.48M1985 399.56v23.48" fill="none" stroke="#f4a582" stroke-width="2.2" stroke-linecap="round" stroke-linejoin="round"/>
<path d="M1967.5 450.41L1978.68 431.05L1956.32 431.05Z" fill="none" stroke="#f4a582" stroke-width="2.2" stroke-linecap="round" stroke-linejoin="round"/>
<path d="M1924.2 446.7l16.6 16.6M1924.2 463.3l16.6 -16.6" fill="none" stroke="#f4a582" stroke-width="2.2" stroke-linecap="round" stroke-linejoin="round"/>
<path d="M1942.06 462.5L1953.8 450.76L1965.54 462.5L1953.8 474.24ZM1942.06 462.5h23.48M1953.8 450.76v23.48" fill="none" stroke="#f4a582" stroke-width="2.2" stroke-linecap="round" stroke-linejoin="round"/>
<circle cx="1997.5" cy="456.3" r="8.3" fill="none" stroke="#f4a582" stroke-width="2.2"/>
<rect x="2058.2" y="446" width="13.6" height="18" rx="1" fill="#f4a582"/><path d="M2071.8 455h6" stroke="#f4a582" stroke-width="2.2" stroke-linecap="round" fill="none"/><path d="M2063.8 449.6l2.4 0l-1.2 2zM2063.8 460.4l2.4 0l-1.2 -2z" fill="#fff" fill-opacity="0.85"/>
<path d="M1973.26 496.3h23.48M1985 484.56v23.48M1976.7 488l16.6 16.6M1976.7 504.6l16.6 -16.6" fill="none" stroke="#f4a582" stroke-width="2.2" stroke-linecap="round" stroke-linejoin="round"/>
<path d="M1537.2 585h10.6v15h-10.6zl10.6 15M1547.8 585l-10.6 15" fill="none" stroke="#f4a582" stroke-width="1.15" stroke-linecap="round" stroke-linejoin="round"/>
<path d="M1521.76 605.5h23.48M1533.5 593.76v23.48" fill="none" stroke="#f4a582" stroke-width="2.2" stroke-linecap="round" stroke-linejoin="round"/>
<rect x="1566.5" y="588.8" width="13.6" height="18" rx="1" fill="#92c5de"/><path d="M1572.1 592.4l2.4 0l-1.2 2zM1572.1 603.2l2.4 0l-1.2 -2zM1569.7 596.6l0 2.4l1.6 -1.2zM1576.9 596.6l0 2.4l-1.6 -1.2z" fill="#fff" fill-opacity="0.85"/>
<rect x="1622.5" y="594.8" width="13.6" height="18" rx="1" fill="#ca1a27"/><path d="M1628.1 598.4l2.4 0l-1.2 2zM1628.1 609.2l2.4 0l-1.2 -2zM1625.7 602.6l0 2.4l1.6 -1.2zM1632.9 602.6l0 2.4l-1.6 -1.2z" fill="#fff" fill-opacity="0.85"/>
<path d="M1494.3 638.41L1505.48 619.05L1483.12 619.05Z" fill="none" stroke="#0571b0" stroke-width="2.2" stroke-linecap="round" stroke-linejoin="round"/>
<path d="M1537.5 634.8L1546 626.3L1554.5 634.8L1546 643.3Z" fill="#92c5de"/>
<path d="M1465.06 657.5L1476.8 645.76L1488.54 657.5L1476.8 669.24Z" fill="none" stroke="#0571b0" stroke-width="2.2" stroke-linecap="round" stroke-linejoin="round"/>
<path d="M1539.26 673.8L1551 662.06L1562.74 673.8L1551 685.54Z" fill="none" stroke="#92c5de" stroke-width="2.2" stroke-linecap="round" stroke-linejoin="round"/>
<path d="M1606.2 661.7l16.6 16.6M1606.2 678.3l16.6 -16.6" fill="none" stroke="#92c5de" stroke-width="2.2" stroke-linecap="round" stroke-linejoin="round"/>
<path d="M1505.5 718.41L1516.68 699.05L1494.32 699.05Z" fill="none" stroke="#f4a582" stroke-width="2.2" stroke-linecap="round" stroke-linejoin="round"/>
<path d="M1505.06 721.5L1516.8 709.76L1528.54 721.5L1516.8 733.24Z" fill="none" stroke="#f4a582" stroke-width="2.2" stroke-linecap="round" stroke-linejoin="round"/>
<path d="M1551.5 704.2h16.6v16.6h-16.6M1551.5 704.2l16.6 16.6M1551.5 720.8l16.6 -16.6" fill="none" stroke="#f4a582" stroke-width="2.2" stroke-linecap="round" stroke-linejoin="round"/>
<path d="M1567.56 707L1579.3 695.26L1591.04 707L1579.3 718.74Z" fill="none" stroke="#ca1a27" stroke-width="2.2" stroke-linecap="round" stroke-linejoin="round"/>
<path d="M1551.26 739.5h23.48M1563 727.76v23.48M1554.7 731.2l16.6 16.6M1554.7 747.8l16.6 -16.6" fill="none" stroke="#f4a582" stroke-width="2.2" stroke-linecap="round" stroke-linejoin="round"/>
<path d="M1552.8 741.3L1561.3 732.8L1569.8 741.3L1561.3 749.8Z" fill="#0571b0"/>
<path d="M1551.5 771.5L1560 763L1568.5 771.5L1560 780Z" fill="#f4a582"/>
<path d="M1604.56 763.8h23.48M1616.3 752.06v23.48" fill="none" stroke="#0571b0" stroke-width="2.2" stroke-linecap="round" stroke-linejoin="round"/>
<path d="M1742.5 770.91L1753.68 751.55L1731.32 751.55Z" fill="none" stroke="#92c5de" stroke-width="2.2" stroke-linecap="round" stroke-linejoin="round"/>
<path d="M1695.5 868.41L1706.68 849.05L1684.32 849.05Z" fill="none" stroke="#92c5de" stroke-width="2.2" stroke-linecap="round" stroke-linejoin="round"/>
<path d="M1756.26 858.8L1768 847.06L1779.74 858.8L1768 870.54ZM1756.26 858.8h23.48M1768 847.06v23.48" fill="none" stroke="#0571b0" stroke-width="2.2" stroke-linecap="round" stroke-linejoin="round"/>
<path d="M1779.26 865h23.48M1791 853.26v23.48" fill="none" stroke="#92c5de" stroke-width="2.2" stroke-linecap="round" stroke-linejoin="round"/>
<path d="M1810.06 636.3L1821.8 624.56L1833.54 636.3L1821.8 648.04Z" fill="none" stroke="#92c5de" stroke-width="2.2" stroke-linecap="round" stroke-linejoin="round"/>
<circle cx="1823.5" cy="653" r="8.3" fill="none" stroke="#0571b0" stroke-width="2.2"/><path d="M1815.2 653h16.6M1823.5 644.7v16.6" fill="none" stroke="#0571b0" stroke-width="2.2" stroke-linecap="round" stroke-linejoin="round"/>
<path d="M1866.26 634L1878 622.26L1889.74 634L1878 645.74ZM1866.26 634h23.48M1878 622.26v23.48" fill="none" stroke="#f4a582" stroke-width="2.2" stroke-linecap="round" stroke-linejoin="round"/>
<path d="M1988.8 583.41L1999.98 564.05L1977.62 564.05Z" fill="none" stroke="#ca1a27" stroke-width="2.2" stroke-linecap="round" stroke-linejoin="round"/>
<path d="M2013.5 565.5l16.6 16.6M2013.5 582.1l16.6 -16.6" fill="none" stroke="#f4a582" stroke-width="2.2" stroke-linecap="round" stroke-linejoin="round"/>
<path d="M2098.5 590L2107 581.5L2115.5 590L2107 598.5Z" fill="#0571b0"/>
<path d="M2237.06 659.5h23.48M2248.8 647.76v23.48" fill="none" stroke="#0571b0" stroke-width="2.2" stroke-linecap="round" stroke-linejoin="round"/>
<path d="M2189.2 673h16.6v16.6h-16.6M2189.2 673l16.6 16.6M2189.2 689.6l16.6 -16.6" fill="none" stroke="#92c5de" stroke-width="2.2" stroke-linecap="round" stroke-linejoin="round"/>
<path d="M2194.56 715L2206.3 703.26L2218.04 715L2206.3 726.74ZM2194.56 715h23.48M2206.3 703.26v23.48" fill="none" stroke="#92c5de" stroke-width="2.2" stroke-linecap="round" stroke-linejoin="round"/>
<path d="M2188.3 736.8L2196.8 728.3L2205.3 736.8L2196.8 745.3Z" fill="#ca1a27"/>
<path d="M2217.56 741.3h23.48M2229.3 729.56v23.48M2221 733l16.6 16.6M2221 749.6l16.6 -16.6" fill="none" stroke="#92c5de" stroke-width="2.2" stroke-linecap="round" stroke-linejoin="round"/>
<path d="M2008 727.2l16.6 16.6M2008 743.8l16.6 -16.6" fill="none" stroke="#0571b0" stroke-width="2.2" stroke-linecap="round" stroke-linejoin="round"/>
<rect x="2098.2" y="869" width="13.6" height="18" rx="1" fill="#92c5de"/><path d="M2103.8 872.6l2.4 0l-1.2 2zM2103.8 883.4l2.4 0l-1.2 -2zM2101.4 876.8l0 2.4l1.6 -1.2zM2108.6 876.8l0 2.4l-1.6 -1.2z" fill="#fff" fill-opacity="0.85"/>
<path d="M2206 865h16.6v16.6h-16.6M2206 865l16.6 16.6M2206 881.6l16.6 -16.6" fill="none" stroke="#92c5de" stroke-width="2.2" stroke-linecap="round" stroke-linejoin="round"/>
<path d="M2175.76 953L2187.5 941.26L2199.24 953L2187.5 964.74Z" fill="none" stroke="#ca1a27" stroke-width="2.2" stroke-linecap="round" stroke-linejoin="round"/>
<path d="M2252.06 960h23.48M2263.8 948.26v23.48M2255.5 951.7l16.6 16.6M2255.5 968.3l16.6 -16.6" fill="none" stroke="#92c5de" stroke-width="2.2" stroke-linecap="round" stroke-linejoin="round"/>
<path d="M2028.76 978.5L2040.5 966.76L2052.24 978.5L2040.5 990.24ZM2028.76 978.5h23.48M2040.5 966.76v23.48" fill="none" stroke="#ca1a27" stroke-width="2.2" stroke-linecap="round" stroke-linejoin="round"/>
<path d="M2434 780h10.6v15h-10.6zl10.6 15M2444.6 780l-10.6 15" fill="none" stroke="#f4a582" stroke-width="1.15" stroke-linecap="round" stroke-linejoin="round"/>
<ellipse cx="1838.63" cy="535.03" rx="259.1" ry="182.54" transform="rotate(51.1 1838.63 535.03)" fill="#92c5de" fill-opacity="0.5" stroke="#000" stroke-opacity="1.0" stroke-width="2.8"/>
<ellipse cx="1826.1" cy="444.87" rx="192.27" ry="157.52" transform="rotate(117.43 1826.1 444.87)" fill="#2759a9" fill-opacity="0.5" stroke="#000" stroke-opacity="1.0" stroke-width="2.8"/>
<ellipse cx="1830.85" cy="459.87" rx="221.6" ry="153.76" transform="rotate(148.75 1830.85 459.87)" fill="#f4a582" fill-opacity="0.5" stroke="#000" stroke-opacity="1.0" stroke-width="2.8"/>
<ellipse cx="1914.93" cy="371.42" rx="221.68" ry="131.16" transform="rotate(75.53 1914.93 371.42)" fill="#c3350a" fill-opacity="0.55" stroke="#000" stroke-opacity="1.0" stroke-width="2.8"/>
</g>
<rect x="1438.3" y="101.2" width="1043.2" height="911.9" fill="none" stroke="#000" stroke-width="2.1"/>
<text x="1531.98" y="1091.9" font-size="36.5" text-anchor="middle" >−2</text>
<text x="1692.54" y="1091.9" font-size="36.5" text-anchor="middle" >−1</text>
<text x="1853.1" y="1091.9" font-size="36.5" text-anchor="middle" >0</text>
<text x="2013.66" y="1091.9" font-size="36.5" text-anchor="middle" >1</text>
<text x="2174.22" y="1091.9" font-size="36.5" text-anchor="middle" >2</text>
<text x="2334.78" y="1091.9" font-size="36.5" text-anchor="middle" >3</text>
<text font-size="36.5" text-anchor="middle" transform="translate(1386.7 161.1) rotate(-90)" >1.0</text>
<text font-size="36.5" text-anchor="middle" transform="translate(1386.7 306.7) rotate(-90)" >0.5</text>
<text font-size="36.5" text-anchor="middle" transform="translate(1386.7 452.3) rotate(-90)" >0.0</text>
<text font-size="36.5" text-anchor="middle" transform="translate(1386.7 597.9) rotate(-90)" >−0.5</text>
<text font-size="36.5" text-anchor="middle" transform="translate(1386.7 743.5) rotate(-90)" >−1.0</text>
<text font-size="36.5" text-anchor="middle" transform="translate(1386.7 889.1) rotate(-90)" >−1.5</text>
<path d="M1531.98 1013.1v22.5M1692.54 1013.1v22.5M1853.1 1013.1v22.5M2013.66 1013.1v22.5M2174.22 1013.1v22.5M2334.78 1013.1v22.5M1438.3 161.1h-22.5M1438.3 306.7h-22.5M1438.3 452.3h-22.5M1438.3 597.9h-22.5M1438.3 743.5h-22.5M1438.3 889.1h-22.5" fill="none" stroke="#000" stroke-width="2.1" stroke-linecap="round"/>
<text x="1959.9" y="1164" font-size="36.5" text-anchor="middle" >Coordinate 1 (12.11%)</text>
<g clip-path="url(#cp10)">
<path d="M573.8 1227.39L584.98 1246.75L562.62 1246.75Z" fill="#40104c"/>
<path d="M546.8 1445.59L557.98 1464.95L535.62 1464.95Z" fill="#a6dba0"/>
<rect x="718.6" y="1416.4" width="16.8" height="16.8" fill="none" stroke="#762a83" stroke-width="2.2"/>
<rect x="754.1" y="1434.6" width="16.8" height="16.8" fill="none" stroke="#e7d4e8" stroke-width="2.2"/>
<rect x="738.5" y="1459.9" width="16.8" height="16.8" fill="none" stroke="#e7d4e8" stroke-width="2.2"/>
<path d="M678.5 1483.09L689.68 1502.45L667.32 1502.45Z" fill="none" stroke="#c2a5cf" stroke-width="2.2" stroke-linecap="round" stroke-linejoin="round"/>
<rect x="452.1" y="1523.9" width="16.8" height="16.8" fill="none" stroke="#f7f7f7" stroke-width="2.2"/>
<path d="M499.8 1524.89L510.98 1544.25L488.62 1544.25Z" fill="#c2a5cf"/>
<rect x="472.2" y="1546.4" width="16.8" height="16.8" fill="none" stroke="#40104c" stroke-width="2.2"/>
<rect x="445.9" y="1558.4" width="16.8" height="16.8" fill="none" stroke="#d9f0d3" stroke-width="2.2"/>
<path d="M294.3 1538.09L305.48 1557.45L283.12 1557.45Z" fill="#0d4421"/>
<path d="M338.8 1542.39L349.98 1561.75L327.62 1561.75Z" fill="none" stroke="#1b7837" stroke-width="2.2" stroke-linecap="round" stroke-linejoin="round"/>
<rect x="345.9" y="1593.1" width="16.8" height="16.8" fill="none" stroke="#762a83" stroke-width="2.2"/>
<rect x="638.85" y="1527.55" width="16.9" height="16.9" fill="#9970ab"/>
<path d="M668.1 1522.39L679.28 1541.75L656.92 1541.75Z" fill="none" stroke="#1b7837" stroke-width="2.2" stroke-linecap="round" stroke-linejoin="round"/>
<rect x="689.55" y="1538.85" width="16.9" height="16.9" fill="#a6dba0"/>
<path d="M608 1544.39L619.18 1563.75L596.82 1563.75Z" fill="none" stroke="#a6dba0" stroke-width="2.2" stroke-linecap="round" stroke-linejoin="round"/>
<rect x="583.85" y="1583.85" width="16.9" height="16.9" fill="#0d4421"/>
<path d="M500 1628.09L511.18 1647.45L488.82 1647.45Z" fill="#0d4421"/>
<path d="M583 1630.59L594.18 1649.95L571.82 1649.95Z" fill="#e7d4e8"/>
<rect x="618.4" y="1626.4" width="16.8" height="16.8" fill="none" stroke="#a6dba0" stroke-width="2.2"/>
<path d="M470.1 1658.39L481.28 1677.75L458.92 1677.75Z" fill="#40104c"/>
<rect x="485.4" y="1657.9" width="16.8" height="16.8" fill="none" stroke="#d9f0d3" stroke-width="2.2"/>
<rect x="459.55" y="1721.55" width="16.9" height="16.9" fill="#762a83"/>
<path d="M494.8 1735.89L505.98 1755.25L483.62 1755.25Z" fill="#40104c"/>
<path d="M514.3 1723.39L525.48 1742.75L503.12 1742.75Z" fill="#a6dba0"/>
<path d="M547.3 1723.39L558.48 1742.75L536.12 1742.75Z" fill="none" stroke="#d9f0d3" stroke-width="2.2" stroke-linecap="round" stroke-linejoin="round"/>
<path d="M577.5 1727.89L588.68 1747.25L566.32 1747.25Z" fill="none" stroke="#f7f7f7" stroke-width="2.2" stroke-linecap="round" stroke-linejoin="round"/>
<rect x="570.9" y="1692.4" width="16.8" height="16.8" fill="none" stroke="#f7f7f7" stroke-width="2.2"/>
<rect x="585.9" y="1722.9" width="16.8" height="16.8" fill="none" stroke="#a6dba0" stroke-width="2.2"/>
<path d="M601.8 1703.39L612.98 1722.75L590.62 1722.75Z" fill="none" stroke="#0d4421" stroke-width="2.2" stroke-linecap="round" stroke-linejoin="round"/>
<path d="M613 1734.59L624.18 1753.95L601.82 1753.95Z" fill="#9970ab"/>
<path d="M624.3 1742.59L635.48 1761.95L613.12 1761.95Z" fill="none" stroke="#1b7837" stroke-width="2.2" stroke-linecap="round" stroke-linejoin="round"/>
<path d="M643.5 1742.59L654.68 1761.95L632.32 1761.95Z" fill="#f7f7f7"/>
<path d="M664.3 1735.39L675.48 1754.75L653.12 1754.75Z" fill="none" stroke="#0d4421" stroke-width="2.2" stroke-linecap="round" stroke-linejoin="round"/>
<path d="M610.5 1758.39L621.68 1777.75L599.32 1777.75Z" fill="#e7d4e8"/>
<path d="M633 1767.09L644.18 1786.45L621.82 1786.45Z" fill="#a6dba0"/>
<rect x="632.4" y="1762.9" width="16.8" height="16.8" fill="none" stroke="#1b7837" stroke-width="2.2"/>
<path d="M645.8 1774.59L656.98 1793.95L634.62 1793.95Z" fill="none" stroke="#1b7837" stroke-width="2.2" stroke-linecap="round" stroke-linejoin="round"/>
<path d="M560 1789.59L571.18 1808.95L548.82 1808.95Z" fill="#762a83"/>
<rect x="617.05" y="1796.55" width="16.9" height="16.9" fill="#762a83"/>
<path d="M633 1788.39L644.18 1807.75L621.82 1807.75Z" fill="#d9f0d3"/>
<rect x="637.05" y="1795.35" width="16.9" height="16.9" fill="#40104c"/>
<path d="M673 1797.09L684.18 1816.45L661.82 1816.45Z" fill="#9970ab"/>
<path d="M573 1820.89L584.18 1840.25L561.82 1840.25Z" fill="#a6dba0"/>
<path d="M679.8 1833.39L690.98 1852.75L668.62 1852.75Z" fill="#e7d4e8"/>
<rect x="691.55" y="1829.05" width="16.9" height="16.9" fill="#c2a5cf"/>
<rect x="697.85" y="1844.05" width="16.9" height="16.9" fill="#1b7837"/>
<path d="M739.8 1832.89L750.98 1852.25L728.62 1852.25Z" fill="#f7f7f7"/>
<path d="M715 1869.59L726.18 1888.95L703.82 1888.95Z" fill="#762a83"/>
<path d="M634.3 1675.89L645.48 1695.25L623.12 1695.25Z" fill="none" stroke="#e7d4e8" stroke-width="2.2" stroke-linecap="round" stroke-linejoin="round"/>
<path d="M675 1650.89L686.18 1670.25L663.82 1670.25Z" fill="none" stroke="#9970ab" stroke-width="2.2" stroke-linecap="round" stroke-linejoin="round"/>
<path d="M585.5 1649.59L596.68 1668.95L574.32 1668.95Z" fill="none" stroke="#0d4421" stroke-width="2.2" stroke-linecap="round" stroke-linejoin="round"/>
<path d="M741.8 1720.89L752.98 1740.25L730.62 1740.25Z" fill="none" stroke="#40104c" stroke-width="2.2" stroke-linecap="round" stroke-linejoin="round"/>
<path d="M737.3 1749.59L748.48 1768.95L726.12 1768.95Z" fill="none" stroke="#a6dba0" stroke-width="2.2" stroke-linecap="round" stroke-linejoin="round"/>
<path d="M713 1783.39L724.18 1802.75L701.82 1802.75Z" fill="none" stroke="#e7d4e8" stroke-width="2.2" stroke-linecap="round" stroke-linejoin="round"/>
<path d="M747.8 1792.09L758.98 1811.45L736.62 1811.45Z" fill="none" stroke="#1b7837" stroke-width="2.2" stroke-linecap="round" stroke-linejoin="round"/>
<path d="M746 1802.09L757.18 1821.45L734.82 1821.45Z" fill="#d9f0d3"/>
<path d="M691.8 1713.39L702.98 1732.75L680.62 1732.75Z" fill="none" stroke="#9970ab" stroke-width="2.2" stroke-linecap="round" stroke-linejoin="round"/>
<rect x="692.05" y="1716.55" width="16.9" height="16.9" fill="#9970ab"/>
<rect x="1090.85" y="1280.85" width="16.9" height="16.9" fill="#762a83"/>
<path d="M1050 1307.59L1061.18 1326.95L1038.82 1326.95Z" fill="none" stroke="#f7f7f7" stroke-width="2.2" stroke-linecap="round" stroke-linejoin="round"/>
<path d="M1215.5 1346.59L1226.68 1365.95L1204.32 1365.95Z" fill="#c2a5cf"/>
<rect x="906.55" y="1355.85" width="16.9" height="16.9" fill="#a6dba0"/>
<rect x="973.4" y="1359.6" width="16.8" height="16.8" fill="none" stroke="#9970ab" stroke-width="2.2"/>
<path d="M1018.8 1363.59L1029.98 1382.95L1007.62 1382.95Z" fill="none" stroke="#9970ab" stroke-width="2.2" stroke-linecap="round" stroke-linejoin="round"/>
<path d="M870.8 1371.09L881.98 1390.45L859.62 1390.45Z" fill="none" stroke="#0d4421" stroke-width="2.2" stroke-linecap="round" stroke-linejoin="round"/>
<path d="M943.3 1381.89L954.48 1401.25L932.12 1401.25Z" fill="none" stroke="#e7d4e8" stroke-width="2.2" stroke-linecap="round" stroke-linejoin="round"/>
<path d="M837.5 1400.59L848.68 1419.95L826.32 1419.95Z" fill="none" stroke="#762a83" stroke-width="2.2" stroke-linecap="round" stroke-linejoin="round"/>
<path d="M933 1409.39L944.18 1428.75L921.82 1428.75Z" fill="none" stroke="#d9f0d3" stroke-width="2.2" stroke-linecap="round" stroke-linejoin="round"/>
<rect x="873.4" y="1419.6" width="16.8" height="16.8" fill="none" stroke="#40104c" stroke-width="2.2"/>
<rect x="779.6" y="1418.9" width="16.8" height="16.8" fill="none" stroke="#0d4421" stroke-width="2.2"/>
<rect x="1098.35" y="1429.05" width="16.9" height="16.9" fill="#c2a5cf"/>
<rect x="1080.4" y="1467.4" width="16.8" height="16.8" fill="none" stroke="#c2a5cf" stroke-width="2.2"/>
<rect x="932.05" y="1470.85" width="16.9" height="16.9" fill="#e7d4e8"/>
<path d="M795 1565.59L806.18 1584.95L783.82 1584.95Z" fill="none" stroke="#c2a5cf" stroke-width="2.2" stroke-linecap="round" stroke-linejoin="round"/>
<rect x="794.1" y="1567.6" width="16.8" height="16.8" fill="none" stroke="#0d4421" stroke-width="2.2"/>
<rect x="867.4" y="1589.6" width="16.8" height="16.8" fill="none" stroke="#a6dba0" stroke-width="2.2"/>
<rect x="765.35" y="1614.55" width="16.9" height="16.9" fill="#40104c"/>
<rect x="822.9" y="1651.4" width="16.8" height="16.8" fill="none" stroke="#a6dba0" stroke-width="2.2"/>
<rect x="979.05" y="1650.15" width="16.9" height="16.9" fill="#e7d4e8"/>
<path d="M1109.6 1645.29L1120.78 1664.65L1098.42 1664.65Z" fill="none" stroke="#40104c" stroke-width="2.2" stroke-linecap="round" stroke-linejoin="round"/>
<rect x="1110.6" y="1655.9" width="16.8" height="16.8" fill="none" stroke="#f7f7f7" stroke-width="2.2"/>
<rect x="1227.75" y="1314.15" width="16.9" height="16.9" fill="#0d4421"/>
<rect x="1238.65" y="1712.45" width="16.9" height="16.9" fill="#9970ab"/>
<path d="M1118.9 1739.29L1130.08 1758.65L1107.72 1758.65Z" fill="none" stroke="#762a83" stroke-width="2.2" stroke-linecap="round" stroke-linejoin="round"/>
<rect x="1147.4" y="1853.8" width="16.8" height="16.8" fill="none" stroke="#d9f0d3" stroke-width="2.2"/>
<rect x="1251.6" y="1926.8" width="16.8" height="16.8" fill="none" stroke="#e7d4e8" stroke-width="2.2"/>
<path d="M1101.3 2070.99L1112.48 2090.35L1090.12 2090.35Z" fill="none" stroke="#d9f0d3" stroke-width="2.2" stroke-linecap="round" stroke-linejoin="round"/>
<path d="M1012.6 1768.39L1023.78 1787.75L1001.42 1787.75Z" fill="#1b7837"/>
<rect x="958.55" y="1755.85" width="16.9" height="16.9" fill="#f7f7f7"/>
<rect x="977.85" y="1707.35" width="16.9" height="16.9" fill="#a6dba0"/>
<rect x="887.4" y="1690.4" width="16.8" height="16.8" fill="none" stroke="#9970ab" stroke-width="2.2"/>
<rect x="891.1" y="1704.1" width="16.8" height="16.8" fill="none" stroke="#9970ab" stroke-width="2.2"/>
<path d="M776.3 1680.89L787.48 1700.25L765.12 1700.25Z" fill="#d9f0d3"/>
<rect x="881.55" y="1752.85" width="16.9" height="16.9" fill="#a6dba0"/>
<rect x="880.35" y="1761.55" width="16.9" height="16.9" fill="#f7f7f7"/>
<path d="M796.3 1783.39L807.48 1802.75L785.12 1802.75Z" fill="none" stroke="#c2a5cf" stroke-width="2.2" stroke-linecap="round" stroke-linejoin="round"/>
<path d="M791.3 1809.59L802.48 1828.95L780.12 1828.95Z" fill="#c2a5cf"/>
<path d="M813 1810.89L824.18 1830.25L801.82 1830.25Z" fill="#a6dba0"/>
<path d="M846.3 1800.89L857.48 1820.25L835.12 1820.25Z" fill="none" stroke="#c2a5cf" stroke-width="2.2" stroke-linecap="round" stroke-linejoin="round"/>
<rect x="849.05" y="1810.35" width="16.9" height="16.9" fill="#d9f0d3"/>
<path d="M988.3 1827.09L999.48 1846.45L977.12 1846.45Z" fill="#a6dba0"/>
<rect x="929.05" y="1856.05" width="16.9" height="16.9" fill="#d9f0d3"/>
<rect x="974.85" y="1855.35" width="16.9" height="16.9" fill="#d9f0d3"/>
<rect x="769.05" y="1837.85" width="16.9" height="16.9" fill="#c2a5cf"/>
<path d="M781.3 1850.89L792.48 1870.25L770.12 1870.25Z" fill="#9970ab"/>
<path d="M812.5 1873.89L823.68 1893.25L801.32 1893.25Z" fill="#f7f7f7"/>
<rect x="824.55" y="1867.85" width="16.9" height="16.9" fill="#a6dba0"/>
<path d="M845 1866.59L856.18 1885.95L833.82 1885.95Z" fill="none" stroke="#c2a5cf" stroke-width="2.2" stroke-linecap="round" stroke-linejoin="round"/>
<rect x="886.55" y="1877.85" width="16.9" height="16.9" fill="#40104c"/>
<rect x="914.85" y="1891.55" width="16.9" height="16.9" fill="#9970ab"/>
<path d="M952.5 1892.09L963.68 1911.45L941.32 1911.45Z" fill="none" stroke="#a6dba0" stroke-width="2.2" stroke-linecap="round" stroke-linejoin="round"/>
<rect x="994.1" y="1890.9" width="16.8" height="16.8" fill="none" stroke="#762a83" stroke-width="2.2"/>
<rect x="803.15" y="1914.85" width="16.9" height="16.9" fill="#1b7837"/>
<path d="M876.3 1896.59L887.48 1915.95L865.12 1915.95Z" fill="#762a83"/>
<rect x="865.65" y="1901.55" width="16.9" height="16.9" fill="#1b7837"/>
<rect x="854.9" y="1906.6" width="16.8" height="16.8" fill="none" stroke="#1b7837" stroke-width="2.2"/>
<rect x="857.35" y="1912.55" width="16.9" height="16.9" fill="#1b7837"/>
<rect x="897.85" y="1919.05" width="16.9" height="16.9" fill="#a6dba0"/>
<ellipse cx="679.75" cy="1615.25" rx="179.8" ry="164.92" transform="rotate(-145.86 679.75 1615.25)" fill="#371140" fill-opacity="0.6" stroke="#000" stroke-opacity="1.0" stroke-width="2.8"/>
<ellipse cx="763.8" cy="1678.52" rx="263.1" ry="208.16" transform="rotate(163.58 763.8 1678.52)" fill="#6e2580" fill-opacity="0.55" stroke="#000" stroke-opacity="1.0" stroke-width="2.8"/>
<ellipse cx="746.71" cy="1682.87" rx="160.13" ry="139.69" transform="rotate(-138.9 746.71 1682.87)" fill="#9970ab" fill-opacity="0.5" stroke="#000" stroke-opacity="1.0" stroke-width="2.8"/>
<ellipse cx="853.9" cy="1650.68" rx="238.16" ry="157.17" transform="rotate(-45.81 853.9 1650.68)" fill="#c2a5cf" fill-opacity="0.5" stroke="#000" stroke-opacity="1.0" stroke-width="2.8"/>
<ellipse cx="780.85" cy="1669.77" rx="229.77" ry="195.6" transform="rotate(161.88 780.85 1669.77)" fill="#e7d4e8" fill-opacity="0.5" stroke="#000" stroke-opacity="1.0" stroke-width="2.8"/>
<ellipse cx="806.86" cy="1685.67" rx="196.23" ry="160.01" transform="rotate(174.48 806.86 1685.67)" fill="#f7f7f7" fill-opacity="0.5" stroke="#000" stroke-opacity="1.0" stroke-width="2.8"/>
<ellipse cx="788.45" cy="1756.24" rx="274.76" ry="132.23" transform="rotate(-150.86 788.45 1756.24)" fill="#d9f0d3" fill-opacity="0.5" stroke="#000" stroke-opacity="1.0" stroke-width="2.8"/>
<ellipse cx="754.4" cy="1705.23" rx="203.46" ry="135.72" transform="rotate(-128.06 754.4 1705.23)" fill="#a6dba0" fill-opacity="0.5" stroke="#000" stroke-opacity="1.0" stroke-width="2.8"/>
<ellipse cx="758.53" cy="1743.85" rx="150.26" ry="100.87" transform="rotate(-156.39 758.53 1743.85)" fill="#a6dba0" fill-opacity="0.5" stroke="#000" stroke-opacity="1.0" stroke-width="2.8"/>
<ellipse cx="728.66" cy="1781.95" rx="197.24" ry="76.77" transform="rotate(-146.93 728.66 1781.95)" fill="#1d5917" fill-opacity="0.5" stroke="#000" stroke-opacity="1.0" stroke-width="2.8"/>
<ellipse cx="691.24" cy="1578.31" rx="261.57" ry="104.22" transform="rotate(154.85 691.24 1578.31)" fill="#23441a" fill-opacity="0.6" stroke="#000" stroke-opacity="1.0" stroke-width="2.8"/>
</g>
<rect x="255.8" y="1206.5" width="1043.3" height="911.4" fill="none" stroke="#000" stroke-width="2.1"/>
<text x="509.9" y="2196.7" font-size="36.5" text-anchor="middle" >−0.2</text>
<text x="770.5" y="2196.7" font-size="36.5" text-anchor="middle" >0.0</text>
<text x="1031.1" y="2196.7" font-size="36.5" text-anchor="middle" >0.2</text>
<text x="1291.7" y="2196.7" font-size="36.5" text-anchor="middle" >0.4</text>
<text font-size="36.5" text-anchor="middle" transform="translate(204.2 1362.9) rotate(-90)" >0.2</text>
<text font-size="36.5" text-anchor="middle" transform="translate(204.2 1526.1) rotate(-90)" >0.1</text>
<text font-size="36.5" text-anchor="middle" transform="translate(204.2 1689.3) rotate(-90)" >0.0</text>
<text font-size="36.5" text-anchor="middle" transform="translate(204.2 1852.5) rotate(-90)" >−0.1</text>
<text font-size="36.5" text-anchor="middle" transform="translate(204.2 2015.7) rotate(-90)" >−0.2</text>
<path d="M509.9 2117.9v22.5M770.5 2117.9v22.5M1031.1 2117.9v22.5M1291.7 2117.9v22.5M255.8 1362.9h-22.5M255.8 1526.1h-22.5M255.8 1689.3h-22.5M255.8 1852.5h-22.5M255.8 2015.7h-22.5" fill="none" stroke="#000" stroke-width="2.1" stroke-linecap="round"/>
<text x="777.45" y="2268.8" font-size="36.5" text-anchor="middle" >Coordinate 1 (13.57%)</text>
<text font-size="36.5" text-anchor="middle" transform="translate(140.8 1662.2) rotate(-90)" >Coordinate 2 (6.29%)</text>
<g clip-path="url(#cp11)">
<rect x="1746.2" y="1231.3" width="13.6" height="18" rx="1" fill="#ca1a27"/><path d="M1751.8 1234.9l2.4 0l-1.2 2zM1751.8 1245.7l2.4 0l-1.2 -2zM1749.4 1239.1l0 2.4l1.6 -1.2zM1756.6 1239.1l0 2.4l-1.6 -1.2z" fill="#fff" fill-opacity="0.85"/>
<path d="M1717.56 1458.5L1729.3 1446.76L1741.04 1458.5L1729.3 1470.24ZM1717.56 1458.5h23.48M1729.3 1446.76v23.48" fill="none" stroke="#ca1a27" stroke-width="2.2" stroke-linecap="round" stroke-linejoin="round"/>
<path d="M1897.76 1424.8h23.48M1909.5 1413.06v23.48" fill="none" stroke="#92c5de" stroke-width="2.2" stroke-linecap="round" stroke-linejoin="round"/>
<path d="M1945 1455.91L1956.18 1436.55L1933.82 1436.55Z" fill="none" stroke="#92c5de" stroke-width="2.2" stroke-linecap="round" stroke-linejoin="round"/>
<path d="M1929.4 1481.21L1940.58 1461.85L1918.22 1461.85Z" fill="none" stroke="#92c5de" stroke-width="2.2" stroke-linecap="round" stroke-linejoin="round"/>
<path d="M1849.26 1496L1861 1484.26L1872.74 1496L1861 1507.74Z" fill="none" stroke="#f4a582" stroke-width="2.2" stroke-linecap="round" stroke-linejoin="round"/>
<path d="M1634.7 1524h16.6v16.6h-16.6M1634.7 1524l16.6 16.6M1634.7 1540.6l16.6 -16.6" fill="none" stroke="#92c5de" stroke-width="2.2" stroke-linecap="round" stroke-linejoin="round"/>
<path d="M1670.56 1537.8L1682.3 1526.06L1694.04 1537.8L1682.3 1549.54Z" fill="none" stroke="#ca1a27" stroke-width="2.2" stroke-linecap="round" stroke-linejoin="round"/>
<rect x="1653" y="1545.8" width="13.6" height="18" rx="1" fill="#92c5de"/><path d="M1658.6 1549.4l2.4 0l-1.2 2zM1658.6 1560.2l2.4 0l-1.2 -2zM1656.2 1553.6l0 2.4l1.6 -1.2zM1663.4 1553.6l0 2.4l-1.6 -1.2z" fill="#fff" fill-opacity="0.85"/>
<path d="M1625.06 1566.8h23.48M1636.8 1555.06v23.48M1628.5 1558.5l16.6 16.6M1628.5 1575.1l16.6 -16.6" fill="none" stroke="#92c5de" stroke-width="2.2" stroke-linecap="round" stroke-linejoin="round"/>
<path d="M1468.3 1551L1476.8 1542.5L1485.3 1551L1476.8 1559.5Z" fill="#ca1a27"/>
<path d="M1512.7 1547.8h10.6v15h-10.6zl10.6 15M1523.3 1547.8l-10.6 15" fill="none" stroke="#f4a582" stroke-width="1.15" stroke-linecap="round" stroke-linejoin="round"/>
<path d="M1525.06 1601.5h23.48M1536.8 1589.76v23.48" fill="none" stroke="#92c5de" stroke-width="2.2" stroke-linecap="round" stroke-linejoin="round"/>
<path d="M1821.5 1527.7l16.6 16.6M1821.5 1544.3l16.6 -16.6" fill="none" stroke="#0571b0" stroke-width="2.2" stroke-linecap="round" stroke-linejoin="round"/>
<path d="M1842 1527.8h10.6v15h-10.6zl10.6 15M1852.6 1527.8l-10.6 15" fill="none" stroke="#f4a582" stroke-width="1.15" stroke-linecap="round" stroke-linejoin="round"/>
<circle cx="1880.5" cy="1547.3" r="8.3" fill="none" stroke="#0571b0" stroke-width="2.2"/><path d="M1872.2 1547.3h16.6M1880.5 1539v16.6" fill="none" stroke="#0571b0" stroke-width="2.2" stroke-linecap="round" stroke-linejoin="round"/>
<path d="M1778.76 1557.3L1790.5 1545.56L1802.24 1557.3L1790.5 1569.04ZM1778.76 1557.3h23.48M1790.5 1545.56v23.48" fill="none" stroke="#f4a582" stroke-width="2.2" stroke-linecap="round" stroke-linejoin="round"/>
<path d="M1766.3 1592.3L1774.8 1583.8L1783.3 1592.3L1774.8 1600.8Z" fill="#0571b0"/>
<path d="M1674 1641L1682.5 1632.5L1691 1641L1682.5 1649.5Z" fill="#ca1a27"/>
<path d="M1765.5 1656.41L1776.68 1637.05L1754.32 1637.05Z" fill="none" stroke="#ca1a27" stroke-width="2.2" stroke-linecap="round" stroke-linejoin="round"/>
<path d="M1797.56 1634.8L1809.3 1623.06L1821.04 1634.8L1809.3 1646.54ZM1797.56 1634.8h23.48M1809.3 1623.06v23.48" fill="none" stroke="#92c5de" stroke-width="2.2" stroke-linecap="round" stroke-linejoin="round"/>
<rect x="1642.5" y="1662.3" width="13.6" height="18" rx="1" fill="#ca1a27"/><path d="M1648.1 1665.9l2.4 0l-1.2 2zM1648.1 1676.7l2.4 0l-1.2 -2zM1645.7 1670.1l0 2.4l1.6 -1.2zM1652.9 1670.1l0 2.4l-1.6 -1.2z" fill="#fff" fill-opacity="0.85"/>
<path d="M1664.56 1666.3h23.48M1676.3 1654.56v23.48M1668 1658l16.6 16.6M1668 1674.6l16.6 -16.6" fill="none" stroke="#92c5de" stroke-width="2.2" stroke-linecap="round" stroke-linejoin="round"/>
<path d="M1638.76 1730h23.48M1650.5 1718.26v23.48" fill="none" stroke="#0571b0" stroke-width="2.2" stroke-linecap="round" stroke-linejoin="round"/>
<circle cx="1677.3" cy="1748.8" r="8.3" fill="none" stroke="#ca1a27" stroke-width="2.2"/>
<circle cx="1696.8" cy="1736.3" r="8.3" fill="none" stroke="#ca1a27" stroke-width="2.2"/><path d="M1688.5 1736.3h16.6M1696.8 1728v16.6" fill="none" stroke="#ca1a27" stroke-width="2.2" stroke-linecap="round" stroke-linejoin="round"/>
<path d="M1718.06 1736.3h23.48M1729.8 1724.56v23.48M1721.5 1728l16.6 16.6M1721.5 1744.6l16.6 -16.6" fill="none" stroke="#f4a582" stroke-width="2.2" stroke-linecap="round" stroke-linejoin="round"/>
<path d="M1751.7 1732.5h16.6v16.6h-16.6M1751.7 1732.5l16.6 16.6M1751.7 1749.1l16.6 -16.6" fill="none" stroke="#f4a582" stroke-width="2.2" stroke-linecap="round" stroke-linejoin="round"/>
<path d="M1753.5 1692.5h16.6v16.6h-16.6M1753.5 1692.5l16.6 16.6M1753.5 1709.1l16.6 -16.6" fill="none" stroke="#92c5de" stroke-width="2.2" stroke-linecap="round" stroke-linejoin="round"/>
<path d="M1765.06 1731.3L1776.8 1719.56L1788.54 1731.3L1776.8 1743.04ZM1765.06 1731.3h23.48M1776.8 1719.56v23.48" fill="none" stroke="#92c5de" stroke-width="2.2" stroke-linecap="round" stroke-linejoin="round"/>
<path d="M1775.8 1716.3L1784.3 1707.8L1792.8 1716.3L1784.3 1724.8Z" fill="#f4a582"/>
<path d="M1787.2 1739.2l16.6 16.6M1787.2 1755.8l16.6 -16.6" fill="none" stroke="#ca1a27" stroke-width="2.2" stroke-linecap="round" stroke-linejoin="round"/>
<path d="M1798.2 1748h10.6v15h-10.6zl10.6 15M1808.8 1748l-10.6 15" fill="none" stroke="#f4a582" stroke-width="1.15" stroke-linecap="round" stroke-linejoin="round"/>
<path d="M1817.7 1747.2h16.6v16.6h-16.6M1817.7 1747.2l16.6 16.6M1817.7 1763.8l16.6 -16.6" fill="none" stroke="#ca1a27" stroke-width="2.2" stroke-linecap="round" stroke-linejoin="round"/>
<path d="M1838.3 1748.3L1846.8 1739.8L1855.3 1748.3L1846.8 1756.8Z" fill="#f4a582"/>
<path d="M1793 1784.21L1804.18 1764.85L1781.82 1764.85Z" fill="none" stroke="#ca1a27" stroke-width="2.2" stroke-linecap="round" stroke-linejoin="round"/>
<circle cx="1815.5" cy="1780" r="8.3" fill="none" stroke="#ca1a27" stroke-width="2.2"/><path d="M1807.2 1780h16.6M1815.5 1771.7v16.6" fill="none" stroke="#ca1a27" stroke-width="2.2" stroke-linecap="round" stroke-linejoin="round"/>
<path d="M1814.7 1763.8h10.6v15h-10.6zl10.6 15M1825.3 1763.8l-10.6 15" fill="none" stroke="#92c5de" stroke-width="1.15" stroke-linecap="round" stroke-linejoin="round"/>
<path d="M1819.7 1780h10.6v15h-10.6zl10.6 15M1830.3 1780l-10.6 15" fill="none" stroke="#f4a582" stroke-width="1.15" stroke-linecap="round" stroke-linejoin="round"/>
<path d="M1730.76 1802.5h23.48M1742.5 1790.76v23.48" fill="none" stroke="#ca1a27" stroke-width="2.2" stroke-linecap="round" stroke-linejoin="round"/>
<path d="M1796.26 1805h23.48M1808 1793.26v23.48" fill="none" stroke="#0571b0" stroke-width="2.2" stroke-linecap="round" stroke-linejoin="round"/>
<path d="M1803.76 1801.3h23.48M1815.5 1789.56v23.48M1807.2 1793l16.6 16.6M1807.2 1809.6l16.6 -16.6" fill="none" stroke="#ca1a27" stroke-width="2.2" stroke-linecap="round" stroke-linejoin="round"/>
<circle cx="1828" cy="1803.8" r="8.3" fill="none" stroke="#0571b0" stroke-width="2.2"/>
<path d="M1847.2 1801.7l16.6 16.6M1847.2 1818.3l16.6 -16.6" fill="none" stroke="#ca1a27" stroke-width="2.2" stroke-linecap="round" stroke-linejoin="round"/>
<path d="M1743.76 1833.8L1755.5 1822.06L1767.24 1833.8L1755.5 1845.54ZM1743.76 1833.8h23.48M1755.5 1822.06v23.48" fill="none" stroke="#ca1a27" stroke-width="2.2" stroke-linecap="round" stroke-linejoin="round"/>
<path d="M1862.3 1859.21L1873.48 1839.85L1851.12 1839.85Z" fill="none" stroke="#ca1a27" stroke-width="2.2" stroke-linecap="round" stroke-linejoin="round"/>
<path d="M1870.76 1837.5L1882.5 1825.76L1894.24 1837.5L1882.5 1849.24Z" fill="none" stroke="#0571b0" stroke-width="2.2" stroke-linecap="round" stroke-linejoin="round"/>
<path d="M1880.2 1845h10.6v15h-10.6zl10.6 15M1890.8 1845l-10.6 15" fill="none" stroke="#0571b0" stroke-width="1.15" stroke-linecap="round" stroke-linejoin="round"/>
<path d="M1914 1837.5h16.6v16.6h-16.6M1914 1837.5l16.6 16.6M1914 1854.1l16.6 -16.6" fill="none" stroke="#ca1a27" stroke-width="2.2" stroke-linecap="round" stroke-linejoin="round"/>
<path d="M1885.76 1882.5h23.48M1897.5 1870.76v23.48" fill="none" stroke="#ca1a27" stroke-width="2.2" stroke-linecap="round" stroke-linejoin="round"/>
<path d="M1816.8 1701.71L1827.98 1682.35L1805.62 1682.35Z" fill="none" stroke="#f4a582" stroke-width="2.2" stroke-linecap="round" stroke-linejoin="round"/>
<path d="M1849.2 1655.5l16.6 16.6M1849.2 1672.1l16.6 -16.6" fill="none" stroke="#f4a582" stroke-width="2.2" stroke-linecap="round" stroke-linejoin="round"/>
<path d="M1759.5 1662.5L1768 1654L1776.5 1662.5L1768 1671Z" fill="#f4a582"/>
<circle cx="1924.3" cy="1733.8" r="8.3" fill="none" stroke="#f4a582" stroke-width="2.2"/>
<circle cx="1919.8" cy="1762.5" r="8.3" fill="none" stroke="#f4a582" stroke-width="2.2"/><path d="M1911.5 1762.5h16.6M1919.8 1754.2v16.6" fill="none" stroke="#f4a582" stroke-width="2.2" stroke-linecap="round" stroke-linejoin="round"/>
<path d="M1895.5 1809.21L1906.68 1789.85L1884.32 1789.85Z" fill="none" stroke="#f4a582" stroke-width="2.2" stroke-linecap="round" stroke-linejoin="round"/>
<path d="M1921.7 1797.5h10.6v15h-10.6zl10.6 15M1932.3 1797.5l-10.6 15" fill="none" stroke="#f4a582" stroke-width="1.15" stroke-linecap="round" stroke-linejoin="round"/>
<path d="M1916.76 1815h23.48M1928.5 1803.26v23.48M1920.2 1806.7l16.6 16.6M1920.2 1823.3l16.6 -16.6" fill="none" stroke="#ca1a27" stroke-width="2.2" stroke-linecap="round" stroke-linejoin="round"/>
<path d="M1866 1718l16.6 16.6M1866 1734.6l16.6 -16.6" fill="none" stroke="#f4a582" stroke-width="2.2" stroke-linecap="round" stroke-linejoin="round"/>
<path d="M1874.7 1716.7l16.6 16.6M1874.7 1733.3l16.6 -16.6" fill="none" stroke="#0571b0" stroke-width="2.2" stroke-linecap="round" stroke-linejoin="round"/>
<path d="M2270.06 1289.3h23.48M2281.8 1277.56v23.48" fill="none" stroke="#0571b0" stroke-width="2.2" stroke-linecap="round" stroke-linejoin="round"/>
<path d="M2224.2 1312.2h16.6v16.6h-16.6M2224.2 1312.2l16.6 16.6M2224.2 1328.8l16.6 -16.6" fill="none" stroke="#f4a582" stroke-width="2.2" stroke-linecap="round" stroke-linejoin="round"/>
<path d="M2386.26 1359.5L2398 1347.76L2409.74 1359.5L2398 1371.24Z" fill="none" stroke="#ca1a27" stroke-width="2.2" stroke-linecap="round" stroke-linejoin="round"/>
<path d="M2085.76 1364.3L2097.5 1352.56L2109.24 1364.3L2097.5 1376.04ZM2085.76 1364.3h23.48M2097.5 1352.56v23.48" fill="none" stroke="#0571b0" stroke-width="2.2" stroke-linecap="round" stroke-linejoin="round"/>
<path d="M2156 1359.7l16.6 16.6M2156 1376.3l16.6 -16.6" fill="none" stroke="#92c5de" stroke-width="2.2" stroke-linecap="round" stroke-linejoin="round"/>
<path d="M2193 1368.2l16.6 16.6M2193 1384.8l16.6 -16.6" fill="none" stroke="#f4a582" stroke-width="2.2" stroke-linecap="round" stroke-linejoin="round"/>
<path d="M2044.8 1384L2053.3 1375.5L2061.8 1384L2053.3 1392.5Z" fill="#f4a582"/>
<path d="M2125.8 1407.71L2136.98 1388.35L2114.62 1388.35Z" fill="none" stroke="#f4a582" stroke-width="2.2" stroke-linecap="round" stroke-linejoin="round"/>
<path d="M2008.26 1413.5h23.48M2020 1401.76v23.48" fill="none" stroke="#f4a582" stroke-width="2.2" stroke-linecap="round" stroke-linejoin="round"/>
<path d="M2103.76 1422.3h23.48M2115.5 1410.56v23.48M2107.2 1414l16.6 16.6M2107.2 1430.6l16.6 -16.6" fill="none" stroke="#f4a582" stroke-width="2.2" stroke-linecap="round" stroke-linejoin="round"/>
<rect x="2054.2" y="1419" width="13.6" height="18" rx="1" fill="#92c5de"/><path d="M2059.8 1422.6l2.4 0l-1.2 2zM2059.8 1433.4l2.4 0l-1.2 -2zM2057.4 1426.8l0 2.4l1.6 -1.2zM2064.6 1426.8l0 2.4l-1.6 -1.2z" fill="#fff" fill-opacity="0.85"/>
<path d="M1962 1427.3L1970.5 1418.8L1979 1427.3L1970.5 1435.8Z" fill="#92c5de"/>
<path d="M2277.56 1437.5L2289.3 1425.76L2301.04 1437.5L2289.3 1449.24Z" fill="none" stroke="#0571b0" stroke-width="2.2" stroke-linecap="round" stroke-linejoin="round"/>
<path d="M2259.56 1475.8L2271.3 1464.06L2283.04 1475.8L2271.3 1487.54Z" fill="none" stroke="#92c5de" stroke-width="2.2" stroke-linecap="round" stroke-linejoin="round"/>
<path d="M2123 1492.21L2134.18 1472.85L2111.82 1472.85Z" fill="none" stroke="#0571b0" stroke-width="2.2" stroke-linecap="round" stroke-linejoin="round"/>
<path d="M1965.76 1578.5L1977.5 1566.76L1989.24 1578.5L1977.5 1590.24Z" fill="none" stroke="#f4a582" stroke-width="2.2" stroke-linecap="round" stroke-linejoin="round"/>
<path d="M1976.5 1576L1985 1567.5L1993.5 1576L1985 1584.5Z" fill="#92c5de"/>
<circle cx="2058.3" cy="1598" r="8.3" fill="none" stroke="#92c5de" stroke-width="2.2"/><path d="M2050 1598h16.6M2058.3 1589.7v16.6" fill="none" stroke="#92c5de" stroke-width="2.2" stroke-linecap="round" stroke-linejoin="round"/>
<circle cx="1956.3" cy="1623" r="8.3" fill="none" stroke="#0571b0" stroke-width="2.2"/>
<path d="M2002.06 1659.8L2013.8 1648.06L2025.54 1659.8L2013.8 1671.54ZM2002.06 1659.8h23.48M2013.8 1648.06v23.48" fill="none" stroke="#92c5de" stroke-width="2.2" stroke-linecap="round" stroke-linejoin="round"/>
<path d="M2170 1671.51L2181.18 1652.15L2158.82 1652.15Z" fill="none" stroke="#0571b0" stroke-width="2.2" stroke-linecap="round" stroke-linejoin="round"/>
<rect x="2282" y="1649.2" width="13.6" height="18" rx="1" fill="#f4a582"/><path d="M2287.6 1652.8l2.4 0l-1.2 2zM2287.6 1663.6l2.4 0l-1.2 -2zM2285.2 1657l0 2.4l1.6 -1.2zM2292.4 1657l0 2.4l-1.6 -1.2z" fill="#fff" fill-opacity="0.85"/>
<path d="M2293.2 1656h16.6v16.6h-16.6M2293.2 1656l16.6 16.6M2293.2 1672.6l16.6 -16.6" fill="none" stroke="#92c5de" stroke-width="2.2" stroke-linecap="round" stroke-linejoin="round"/>
<path d="M2410.2 1322.6L2418.7 1314.1L2427.2 1322.6L2418.7 1331.1Z" fill="#0571b0"/>
<path d="M2421.3 1712.6l16.6 16.6M2421.3 1729.2l16.6 -16.6" fill="none" stroke="#0571b0" stroke-width="2.2" stroke-linecap="round" stroke-linejoin="round"/>
<path d="M2289.66 1752.2h23.48M2301.4 1740.46v23.48" fill="none" stroke="#f4a582" stroke-width="2.2" stroke-linecap="round" stroke-linejoin="round"/>
<path d="M2326.56 1862.2h23.48M2338.3 1850.46v23.48M2330 1853.9l16.6 16.6M2330 1870.5l16.6 -16.6" fill="none" stroke="#92c5de" stroke-width="2.2" stroke-linecap="round" stroke-linejoin="round"/>
<path d="M2442.5 1948.11L2453.68 1928.75L2431.32 1928.75Z" fill="none" stroke="#92c5de" stroke-width="2.2" stroke-linecap="round" stroke-linejoin="round"/>
<path d="M2272.06 2083.9h23.48M2283.8 2072.16v23.48M2275.5 2075.6l16.6 16.6M2275.5 2092.2l16.6 -16.6" fill="none" stroke="#f4a582" stroke-width="2.2" stroke-linecap="round" stroke-linejoin="round"/>
<path d="M2186.5 1773.8h10.6v15h-10.6zl10.6 15M2197.1 1773.8l-10.6 15" fill="none" stroke="#ca1a27" stroke-width="1.15" stroke-linecap="round" stroke-linejoin="round"/>
<path d="M2141.2 1756h16.6v16.6h-16.6M2141.2 1756l16.6 16.6M2141.2 1772.6l16.6 -16.6" fill="none" stroke="#0571b0" stroke-width="2.2" stroke-linecap="round" stroke-linejoin="round"/>
<circle cx="2168.8" cy="1715.8" r="8.3" fill="none" stroke="#0571b0" stroke-width="2.2"/><path d="M2160.5 1715.8h16.6M2168.8 1707.5v16.6" fill="none" stroke="#0571b0" stroke-width="2.2" stroke-linecap="round" stroke-linejoin="round"/>
<path d="M2070 1690.5l16.6 16.6M2070 1707.1l16.6 -16.6" fill="none" stroke="#92c5de" stroke-width="2.2" stroke-linecap="round" stroke-linejoin="round"/>
<path d="M2073.7 1704.2l16.6 16.6M2073.7 1720.8l16.6 -16.6" fill="none" stroke="#92c5de" stroke-width="2.2" stroke-linecap="round" stroke-linejoin="round"/>
<path d="M1947.06 1693.8h23.48M1958.8 1682.06v23.48M1950.5 1685.5l16.6 16.6M1950.5 1702.1l16.6 -16.6" fill="none" stroke="#ca1a27" stroke-width="2.2" stroke-linecap="round" stroke-linejoin="round"/>
<circle cx="2072.5" cy="1761.3" r="8.3" fill="none" stroke="#0571b0" stroke-width="2.2"/><path d="M2064.2 1761.3h16.6M2072.5 1753v16.6" fill="none" stroke="#0571b0" stroke-width="2.2" stroke-linecap="round" stroke-linejoin="round"/>
<path d="M2063 1761.7h16.6v16.6h-16.6M2063 1761.7l16.6 16.6M2063 1778.3l16.6 -16.6" fill="none" stroke="#0571b0" stroke-width="2.2" stroke-linecap="round" stroke-linejoin="round"/>
<path d="M1967.06 1796.3L1978.8 1784.56L1990.54 1796.3L1978.8 1808.04Z" fill="none" stroke="#f4a582" stroke-width="2.2" stroke-linecap="round" stroke-linejoin="round"/>
<path d="M1962.06 1822.5L1973.8 1810.76L1985.54 1822.5L1973.8 1834.24Z" fill="none" stroke="#ca1a27" stroke-width="2.2" stroke-linecap="round" stroke-linejoin="round"/>
<circle cx="1995.5" cy="1823.8" r="8.3" fill="none" stroke="#ca1a27" stroke-width="2.2"/><path d="M1987.2 1823.8h16.6M1995.5 1815.5v16.6" fill="none" stroke="#ca1a27" stroke-width="2.2" stroke-linecap="round" stroke-linejoin="round"/>
<path d="M2017.06 1813.8L2028.8 1802.06L2040.54 1813.8L2028.8 1825.54Z" fill="none" stroke="#f4a582" stroke-width="2.2" stroke-linecap="round" stroke-linejoin="round"/>
<path d="M2028.26 1818.8h23.48M2040 1807.06v23.48M2031.7 1810.5l16.6 16.6M2031.7 1827.1l16.6 -16.6" fill="none" stroke="#0571b0" stroke-width="2.2" stroke-linecap="round" stroke-linejoin="round"/>
<path d="M2159.06 1840L2170.8 1828.26L2182.54 1840L2170.8 1851.74ZM2159.06 1840h23.48M2170.8 1828.26v23.48" fill="none" stroke="#ca1a27" stroke-width="2.2" stroke-linecap="round" stroke-linejoin="round"/>
<path d="M2108.26 1864.5h23.48M2120 1852.76v23.48M2111.7 1856.2l16.6 16.6M2111.7 1872.8l16.6 -16.6" fill="none" stroke="#0571b0" stroke-width="2.2" stroke-linecap="round" stroke-linejoin="round"/>
<path d="M2154.06 1863.8h23.48M2165.8 1852.06v23.48M2157.5 1855.5l16.6 16.6M2157.5 1872.1l16.6 -16.6" fill="none" stroke="#0571b0" stroke-width="2.2" stroke-linecap="round" stroke-linejoin="round"/>
<path d="M1948.26 1846.3L1960 1834.56L1971.74 1846.3L1960 1858.04Z" fill="none" stroke="#0571b0" stroke-width="2.2" stroke-linecap="round" stroke-linejoin="round"/>
<path d="M1955.5 1855.5l16.6 16.6M1955.5 1872.1l16.6 -16.6" fill="none" stroke="#ca1a27" stroke-width="2.2" stroke-linecap="round" stroke-linejoin="round"/>
<path d="M1986.7 1878.5h16.6v16.6h-16.6M1986.7 1878.5l16.6 16.6M1986.7 1895.1l16.6 -16.6" fill="none" stroke="#ca1a27" stroke-width="2.2" stroke-linecap="round" stroke-linejoin="round"/>
<circle cx="2015.5" cy="1876.3" r="8.3" fill="none" stroke="#0571b0" stroke-width="2.2"/><path d="M2007.2 1876.3h16.6M2015.5 1868v16.6" fill="none" stroke="#0571b0" stroke-width="2.2" stroke-linecap="round" stroke-linejoin="round"/>
<path d="M2015.76 1879.5L2027.5 1867.76L2039.24 1879.5L2027.5 1891.24Z" fill="none" stroke="#f4a582" stroke-width="2.2" stroke-linecap="round" stroke-linejoin="round"/>
<circle cx="2077.5" cy="1886.3" r="8.3" fill="none" stroke="#0571b0" stroke-width="2.2"/>
<path d="M2097.5 1891.7l16.6 16.6M2097.5 1908.3l16.6 -16.6" fill="none" stroke="#0571b0" stroke-width="2.2" stroke-linecap="round" stroke-linejoin="round"/>
<path d="M2123.26 1905L2135 1893.26L2146.74 1905L2135 1916.74ZM2123.26 1905h23.48M2135 1893.26v23.48" fill="none" stroke="#f4a582" stroke-width="2.2" stroke-linecap="round" stroke-linejoin="round"/>
<path d="M2173.26 1899.3h23.48M2185 1887.56v23.48" fill="none" stroke="#92c5de" stroke-width="2.2" stroke-linecap="round" stroke-linejoin="round"/>
<path d="M1985.5 1915.8h10.6v15h-10.6zl10.6 15M1996.1 1915.8l-10.6 15" fill="none" stroke="#0571b0" stroke-width="1.15" stroke-linecap="round" stroke-linejoin="round"/>
<path d="M2047.06 1909.5h23.48M2058.8 1897.76v23.48" fill="none" stroke="#ca1a27" stroke-width="2.2" stroke-linecap="round" stroke-linejoin="round"/>
<path d="M2048 1902.5h10.6v15h-10.6zl10.6 15M2058.6 1902.5l-10.6 15" fill="none" stroke="#0571b0" stroke-width="1.15" stroke-linecap="round" stroke-linejoin="round"/>
<path d="M2037.2 1907.5h10.6v15h-10.6zl10.6 15M2047.8 1907.5l-10.6 15" fill="none" stroke="#92c5de" stroke-width="1.15" stroke-linecap="round" stroke-linejoin="round"/>
<path d="M2039.7 1913.5h10.6v15h-10.6zl10.6 15M2050.3 1913.5l-10.6 15" fill="none" stroke="#0571b0" stroke-width="1.15" stroke-linecap="round" stroke-linejoin="round"/>
<path d="M2077.06 1927.5L2088.8 1915.76L2100.54 1927.5L2088.8 1939.24ZM2077.06 1927.5h23.48M2088.8 1915.76v23.48" fill="none" stroke="#0571b0" stroke-width="2.2" stroke-linecap="round" stroke-linejoin="round"/>
<ellipse cx="1962.97" cy="1644.29" rx="228.88" ry="152.73" transform="rotate(-161.12 1962.97 1644.29)" fill="#92c5de" fill-opacity="0.5" stroke="#000" stroke-opacity="1.0" stroke-width="2.8"/>
<ellipse cx="2041.05" cy="1712.88" rx="209.1" ry="157.87" transform="rotate(130.27 2041.05 1712.88)" fill="#2759a9" fill-opacity="0.5" stroke="#000" stroke-opacity="1.0" stroke-width="2.8"/>
<ellipse cx="1952.33" cy="1660.66" rx="194.83" ry="173.25" transform="rotate(161.79 1952.33 1660.66)" fill="#f4a582" fill-opacity="0.5" stroke="#000" stroke-opacity="1.0" stroke-width="2.8"/>
<ellipse cx="1863.77" cy="1736.78" rx="186.98" ry="144.25" transform="rotate(-154.02 1863.77 1736.78)" fill="#c3350a" fill-opacity="0.55" stroke="#000" stroke-opacity="1.0" stroke-width="2.8"/>
</g>
<rect x="1438.3" y="1206.5" width="1043.2" height="911.4" fill="none" stroke="#000" stroke-width="2.1"/>
<text x="1692.4" y="2196.7" font-size="36.5" text-anchor="middle" >−0.2</text>
<text x="1953" y="2196.7" font-size="36.5" text-anchor="middle" >0.0</text>
<text x="2213.6" y="2196.7" font-size="36.5" text-anchor="middle" >0.2</text>
<text x="2474.2" y="2196.7" font-size="36.5" text-anchor="middle" >0.4</text>
<text font-size="36.5" text-anchor="middle" transform="translate(1386.7 1362.9) rotate(-90)" >0.2</text>
<text font-size="36.5" text-anchor="middle" transform="translate(1386.7 1526.1) rotate(-90)" >0.1</text>
<text font-size="36.5" text-anchor="middle" transform="translate(1386.7 1689.3) rotate(-90)" >0.0</text>
<text font-size="36.5" text-anchor="middle" transform="translate(1386.7 1852.5) rotate(-90)" >−0.1</text>
<text font-size="36.5" text-anchor="middle" transform="translate(1386.7 2015.7) rotate(-90)" >−0.2</text>
<path d="M1692.4 2117.9v22.5M1953 2117.9v22.5M2213.6 2117.9v22.5M2474.2 2117.9v22.5M1438.3 1362.9h-22.5M1438.3 1526.1h-22.5M1438.3 1689.3h-22.5M1438.3 1852.5h-22.5M1438.3 2015.7h-22.5" fill="none" stroke="#000" stroke-width="2.1" stroke-linecap="round"/>
<text x="1959.9" y="2268.8" font-size="36.5" text-anchor="middle" >Coordinate 1 (13.57%)</text>
<rect x="936.6" y="137.1" width="16.8" height="16.8" fill="none" stroke="#000" stroke-width="2.2"/>
<text x="977" y="158.5" font-size="36.3" >control.offshore</text>
<rect x="936.55" y="180.75" width="16.9" height="16.9" fill="#000"/>
<text x="977" y="202.2" font-size="36.3" >control.discharge</text>
<path d="M945 219.99L956.18 239.35L933.82 239.35Z" fill="none" stroke="#000" stroke-width="2.2" stroke-linecap="round" stroke-linejoin="round"/>
<text x="977" y="245.9" font-size="36.3" >elevated.offshore</text>
<path d="M945 263.69L956.18 283.05L933.82 283.05Z" fill="#000"/>
<text x="977" y="289.6" font-size="36.3" >elevated.discharge</text>
<rect x="2100.9" y="134.6" width="26.6" height="21.8" fill="#92c5de" stroke="#000" stroke-width="2.1"/>
<text x="2159" y="158.5" font-size="36.3" >control.offshore</text>
<rect x="2100.9" y="178.3" width="26.6" height="21.8" fill="#0571b0" stroke="#000" stroke-width="2.1"/>
<text x="2159" y="202.2" font-size="36.3" >control.discharge</text>
<rect x="2100.9" y="222" width="26.6" height="21.8" fill="#f4a582" stroke="#000" stroke-width="2.1"/>
<text x="2159" y="245.9" font-size="36.3" >elevated.offshore</text>
<rect x="2100.9" y="265.7" width="26.6" height="21.8" fill="#ca1a27" stroke="#000" stroke-width="2.1"/>
<text x="2159" y="289.6" font-size="36.3" >elevated.discharge</text>
<rect x="1203.5" y="520.7" width="25.6" height="21" fill="#40104c" stroke="#000" stroke-width="2.1"/>
<text x="1263.2" y="544.2" font-size="36.5" >a</text>
<rect x="2401.5" y="522.2" width="13.6" height="18" rx="1" fill="#000"/><path d="M2407.1 525.8l2.4 0l-1.2 2zM2407.1 536.6l2.4 0l-1.2 -2zM2404.7 530l0 2.4l1.6 -1.2zM2411.9 530l0 2.4l-1.6 -1.2z" fill="#fff" fill-opacity="0.85"/>
<text x="2445.7" y="544.2" font-size="36.5" >a</text>
<rect x="1203.5" y="564.48" width="25.6" height="21" fill="#762a83" stroke="#000" stroke-width="2.1"/>
<text x="1263.2" y="587.98" font-size="36.5" >b</text>
<path d="M2399.86 574.98h23.48M2411.6 563.24v23.48" fill="none" stroke="#000" stroke-width="2.2" stroke-linecap="round" stroke-linejoin="round"/>
<text x="2445.7" y="587.98" font-size="36.5" >b</text>
<rect x="1203.5" y="608.26" width="25.6" height="21" fill="#9970ab" stroke="#000" stroke-width="2.1"/>
<text x="1263.2" y="631.76" font-size="36.5" >c</text>
<path d="M2403.3 610.46l16.6 16.6M2403.3 627.06l16.6 -16.6" fill="none" stroke="#000" stroke-width="2.2" stroke-linecap="round" stroke-linejoin="round"/>
<text x="2445.7" y="631.76" font-size="36.5" >c</text>
<rect x="1203.5" y="652.04" width="25.6" height="21" fill="#c2a5cf" stroke="#000" stroke-width="2.1"/>
<text x="1263.2" y="675.54" font-size="36.5" >d</text>
<path d="M2399.86 662.54L2411.6 650.8L2423.34 662.54L2411.6 674.28Z" fill="none" stroke="#000" stroke-width="2.2" stroke-linecap="round" stroke-linejoin="round"/>
<text x="2445.7" y="675.54" font-size="36.5" >d</text>
<rect x="1203.5" y="695.82" width="25.6" height="21" fill="#e7d4e8" stroke="#000" stroke-width="2.1"/>
<text x="1263.2" y="719.32" font-size="36.5" >e</text>
<path d="M2411.6 719.23L2422.78 699.87L2400.42 699.87Z" fill="none" stroke="#000" stroke-width="2.2" stroke-linecap="round" stroke-linejoin="round"/>
<text x="2445.7" y="719.32" font-size="36.5" >e</text>
<rect x="1203.5" y="739.6" width="25.6" height="21" fill="#f7f7f7" stroke="#000" stroke-width="2.1"/>
<text x="1263.2" y="763.1" font-size="36.5" >f</text>
<path d="M2403.3 741.8h16.6v16.6h-16.6M2403.3 741.8l16.6 16.6M2403.3 758.4l16.6 -16.6" fill="none" stroke="#000" stroke-width="2.2" stroke-linecap="round" stroke-linejoin="round"/>
<text x="2445.7" y="763.1" font-size="36.5" >f</text>
<rect x="1203.5" y="783.38" width="25.6" height="21" fill="#d9f0d3" stroke="#000" stroke-width="2.1"/>
<text x="1263.2" y="806.88" font-size="36.5" >g</text>
<path d="M2399.86 793.88h23.48M2411.6 782.14v23.48M2403.3 785.58l16.6 16.6M2403.3 802.18l16.6 -16.6" fill="none" stroke="#000" stroke-width="2.2" stroke-linecap="round" stroke-linejoin="round"/>
<text x="2445.7" y="806.88" font-size="36.5" >g</text>
<rect x="1203.5" y="827.16" width="25.6" height="21" fill="#a6dba0" stroke="#000" stroke-width="2.1"/>
<text x="1263.2" y="850.66" font-size="36.5" >h</text>
<path d="M2399.86 837.66L2411.6 825.92L2423.34 837.66L2411.6 849.4ZM2399.86 837.66h23.48M2411.6 825.92v23.48" fill="none" stroke="#000" stroke-width="2.2" stroke-linecap="round" stroke-linejoin="round"/>
<text x="2445.7" y="850.66" font-size="36.5" >h</text>
<rect x="1203.5" y="870.94" width="25.6" height="21" fill="#a6dba0" stroke="#000" stroke-width="2.1"/>
<text x="1263.2" y="894.44" font-size="36.5" >i</text>
<rect x="2401.5" y="872.44" width="13.6" height="18" rx="1" fill="#000"/><path d="M2415.1 881.44h6" stroke="#000" stroke-width="2.2" stroke-linecap="round" fill="none"/><path d="M2407.1 876.04l2.4 0l-1.2 2zM2407.1 886.84l2.4 0l-1.2 -2z" fill="#fff" fill-opacity="0.85"/>
<text x="2445.7" y="894.44" font-size="36.5" >i</text>
<rect x="1203.5" y="914.72" width="25.6" height="21" fill="#1b7837" stroke="#000" stroke-width="2.1"/>
<text x="1263.2" y="938.22" font-size="36.5" >j</text>
<path d="M2403 917.72h10.6v15h-10.6zl10.6 15M2413.6 917.72l-10.6 15" fill="none" stroke="#000" stroke-width="1.15" stroke-linecap="round" stroke-linejoin="round"/>
<text x="2445.7" y="938.22" font-size="36.5" >j</text>
<rect x="1203.5" y="958.5" width="25.6" height="21" fill="#0d4421" stroke="#000" stroke-width="2.1"/>
<text x="1263.2" y="982" font-size="36.5" >k</text>
<path d="M2403.1 969L2411.6 960.5L2420.1 969L2411.6 977.5Z" fill="#000"/>
<text x="2445.7" y="982" font-size="36.5" >k</text>
<text x="269.3" y="991.6" font-size="36.5" >genotype: <tspan font-style="italic">R</tspan><tspan dx="3" dy="-13" font-size="21.5">2</tspan><tspan dy="13"> = 0.14197, </tspan><tspan font-style="italic">p</tspan> = 0.0001</text>
<text x="1455.6" y="948.4" font-size="36.5" >temp: <tspan font-style="italic">R</tspan><tspan dx="3" dy="-13" font-size="21.5">2</tspan><tspan dy="13"> = 0.01098, </tspan><tspan font-style="italic">p</tspan> = 0.0247</text>
<text x="1455.6" y="991.2" font-size="36.5" >water: <tspan font-style="italic">R</tspan><tspan dx="3" dy="-13" font-size="21.5">2</tspan><tspan dy="13"> = 0.00984, </tspan><tspan font-style="italic">p</tspan> = 0.0506</text>
<text x="1279" y="2096.7" font-size="36.5" text-anchor="end" >genotype: <tspan font-style="italic">R</tspan><tspan dx="3" dy="-13" font-size="21.5">2</tspan><tspan dy="13"> = 0.08906, </tspan><tspan font-style="italic">p</tspan> = 0.0871</text>
<text x="2459.5" y="2052.2" font-size="36.5" text-anchor="end" >temp: <tspan font-style="italic">R</tspan><tspan dx="3" dy="-13" font-size="21.5">2</tspan><tspan dy="13"> = 0.01876, </tspan><tspan font-style="italic">p</tspan> = 0.0013</text>
<text x="2459.5" y="2095.4" font-size="36.5" text-anchor="end" >water: <tspan font-style="italic">R</tspan><tspan dx="3" dy="-13" font-size="21.5">2</tspan><tspan dy="13"> = 0.00974, </tspan><tspan font-style="italic">p</tspan> = 0.1326</text>
</svg>
</body></html>
